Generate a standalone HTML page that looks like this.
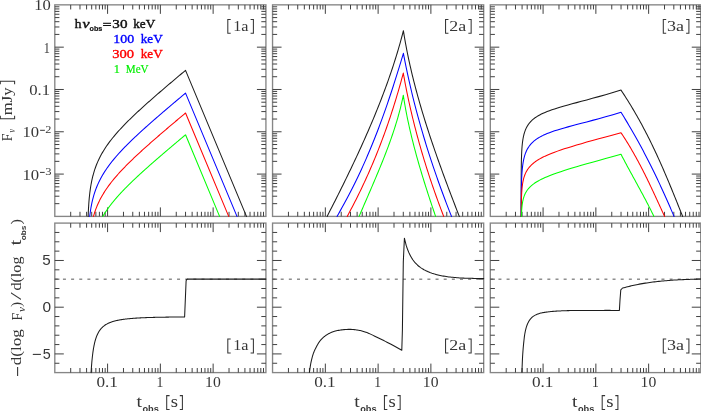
<!DOCTYPE html>
<html><head><meta charset="utf-8"><style>
html,body{margin:0;padding:0;background:#fff;}
body{width:701px;height:411px;overflow:hidden;position:relative;}
svg{position:absolute;left:0;top:0;}
.s{font-family:"Liberation Serif", serif;fill:#222;}
.ss{font-family:"Liberation Sans", sans-serif;fill:#222;}
</style></head><body>
<svg width="701" height="411" viewBox="0 0 701 411">
<rect x="54.80" y="4.85" width="211.12" height="211.55" fill="none" stroke="#868686" stroke-width="1.35"/>
<rect x="54.80" y="223.10" width="211.12" height="149.50" fill="none" stroke="#868686" stroke-width="1.35"/>
<rect x="272.55" y="4.85" width="211.12" height="211.55" fill="none" stroke="#868686" stroke-width="1.35"/>
<rect x="272.55" y="223.10" width="211.12" height="149.50" fill="none" stroke="#868686" stroke-width="1.35"/>
<rect x="490.30" y="4.85" width="210.45" height="211.55" fill="none" stroke="#868686" stroke-width="1.35"/>
<rect x="490.30" y="223.10" width="210.45" height="149.50" fill="none" stroke="#868686" stroke-width="1.35"/>
<line x1="70.69" y1="4.85" x2="70.69" y2="9.45" stroke="#404040" stroke-width="1.0"/>
<line x1="70.69" y1="216.40" x2="70.69" y2="211.80" stroke="#404040" stroke-width="1.0"/>
<line x1="79.98" y1="4.85" x2="79.98" y2="9.45" stroke="#404040" stroke-width="1.0"/>
<line x1="79.98" y1="216.40" x2="79.98" y2="211.80" stroke="#404040" stroke-width="1.0"/>
<line x1="86.58" y1="4.85" x2="86.58" y2="9.45" stroke="#404040" stroke-width="1.0"/>
<line x1="86.58" y1="216.40" x2="86.58" y2="211.80" stroke="#404040" stroke-width="1.0"/>
<line x1="91.69" y1="4.85" x2="91.69" y2="9.45" stroke="#404040" stroke-width="1.0"/>
<line x1="91.69" y1="216.40" x2="91.69" y2="211.80" stroke="#404040" stroke-width="1.0"/>
<line x1="95.87" y1="4.85" x2="95.87" y2="9.45" stroke="#404040" stroke-width="1.0"/>
<line x1="95.87" y1="216.40" x2="95.87" y2="211.80" stroke="#404040" stroke-width="1.0"/>
<line x1="99.40" y1="4.85" x2="99.40" y2="9.45" stroke="#404040" stroke-width="1.0"/>
<line x1="99.40" y1="216.40" x2="99.40" y2="211.80" stroke="#404040" stroke-width="1.0"/>
<line x1="102.47" y1="4.85" x2="102.47" y2="9.45" stroke="#404040" stroke-width="1.0"/>
<line x1="102.47" y1="216.40" x2="102.47" y2="211.80" stroke="#404040" stroke-width="1.0"/>
<line x1="105.16" y1="4.85" x2="105.16" y2="9.45" stroke="#404040" stroke-width="1.0"/>
<line x1="105.16" y1="216.40" x2="105.16" y2="211.80" stroke="#404040" stroke-width="1.0"/>
<line x1="107.58" y1="4.85" x2="107.58" y2="13.85" stroke="#404040" stroke-width="1.0"/>
<line x1="107.58" y1="216.40" x2="107.58" y2="207.40" stroke="#404040" stroke-width="1.0"/>
<line x1="123.47" y1="4.85" x2="123.47" y2="9.45" stroke="#404040" stroke-width="1.0"/>
<line x1="123.47" y1="216.40" x2="123.47" y2="211.80" stroke="#404040" stroke-width="1.0"/>
<line x1="132.76" y1="4.85" x2="132.76" y2="9.45" stroke="#404040" stroke-width="1.0"/>
<line x1="132.76" y1="216.40" x2="132.76" y2="211.80" stroke="#404040" stroke-width="1.0"/>
<line x1="139.36" y1="4.85" x2="139.36" y2="9.45" stroke="#404040" stroke-width="1.0"/>
<line x1="139.36" y1="216.40" x2="139.36" y2="211.80" stroke="#404040" stroke-width="1.0"/>
<line x1="144.47" y1="4.85" x2="144.47" y2="9.45" stroke="#404040" stroke-width="1.0"/>
<line x1="144.47" y1="216.40" x2="144.47" y2="211.80" stroke="#404040" stroke-width="1.0"/>
<line x1="148.65" y1="4.85" x2="148.65" y2="9.45" stroke="#404040" stroke-width="1.0"/>
<line x1="148.65" y1="216.40" x2="148.65" y2="211.80" stroke="#404040" stroke-width="1.0"/>
<line x1="152.18" y1="4.85" x2="152.18" y2="9.45" stroke="#404040" stroke-width="1.0"/>
<line x1="152.18" y1="216.40" x2="152.18" y2="211.80" stroke="#404040" stroke-width="1.0"/>
<line x1="155.25" y1="4.85" x2="155.25" y2="9.45" stroke="#404040" stroke-width="1.0"/>
<line x1="155.25" y1="216.40" x2="155.25" y2="211.80" stroke="#404040" stroke-width="1.0"/>
<line x1="157.94" y1="4.85" x2="157.94" y2="9.45" stroke="#404040" stroke-width="1.0"/>
<line x1="157.94" y1="216.40" x2="157.94" y2="211.80" stroke="#404040" stroke-width="1.0"/>
<line x1="160.36" y1="4.85" x2="160.36" y2="13.85" stroke="#404040" stroke-width="1.0"/>
<line x1="160.36" y1="216.40" x2="160.36" y2="207.40" stroke="#404040" stroke-width="1.0"/>
<line x1="176.25" y1="4.85" x2="176.25" y2="9.45" stroke="#404040" stroke-width="1.0"/>
<line x1="176.25" y1="216.40" x2="176.25" y2="211.80" stroke="#404040" stroke-width="1.0"/>
<line x1="185.54" y1="4.85" x2="185.54" y2="9.45" stroke="#404040" stroke-width="1.0"/>
<line x1="185.54" y1="216.40" x2="185.54" y2="211.80" stroke="#404040" stroke-width="1.0"/>
<line x1="192.14" y1="4.85" x2="192.14" y2="9.45" stroke="#404040" stroke-width="1.0"/>
<line x1="192.14" y1="216.40" x2="192.14" y2="211.80" stroke="#404040" stroke-width="1.0"/>
<line x1="197.25" y1="4.85" x2="197.25" y2="9.45" stroke="#404040" stroke-width="1.0"/>
<line x1="197.25" y1="216.40" x2="197.25" y2="211.80" stroke="#404040" stroke-width="1.0"/>
<line x1="201.43" y1="4.85" x2="201.43" y2="9.45" stroke="#404040" stroke-width="1.0"/>
<line x1="201.43" y1="216.40" x2="201.43" y2="211.80" stroke="#404040" stroke-width="1.0"/>
<line x1="204.96" y1="4.85" x2="204.96" y2="9.45" stroke="#404040" stroke-width="1.0"/>
<line x1="204.96" y1="216.40" x2="204.96" y2="211.80" stroke="#404040" stroke-width="1.0"/>
<line x1="208.03" y1="4.85" x2="208.03" y2="9.45" stroke="#404040" stroke-width="1.0"/>
<line x1="208.03" y1="216.40" x2="208.03" y2="211.80" stroke="#404040" stroke-width="1.0"/>
<line x1="210.72" y1="4.85" x2="210.72" y2="9.45" stroke="#404040" stroke-width="1.0"/>
<line x1="210.72" y1="216.40" x2="210.72" y2="211.80" stroke="#404040" stroke-width="1.0"/>
<line x1="213.14" y1="4.85" x2="213.14" y2="13.85" stroke="#404040" stroke-width="1.0"/>
<line x1="213.14" y1="216.40" x2="213.14" y2="207.40" stroke="#404040" stroke-width="1.0"/>
<line x1="229.03" y1="4.85" x2="229.03" y2="9.45" stroke="#404040" stroke-width="1.0"/>
<line x1="229.03" y1="216.40" x2="229.03" y2="211.80" stroke="#404040" stroke-width="1.0"/>
<line x1="238.32" y1="4.85" x2="238.32" y2="9.45" stroke="#404040" stroke-width="1.0"/>
<line x1="238.32" y1="216.40" x2="238.32" y2="211.80" stroke="#404040" stroke-width="1.0"/>
<line x1="244.92" y1="4.85" x2="244.92" y2="9.45" stroke="#404040" stroke-width="1.0"/>
<line x1="244.92" y1="216.40" x2="244.92" y2="211.80" stroke="#404040" stroke-width="1.0"/>
<line x1="250.03" y1="4.85" x2="250.03" y2="9.45" stroke="#404040" stroke-width="1.0"/>
<line x1="250.03" y1="216.40" x2="250.03" y2="211.80" stroke="#404040" stroke-width="1.0"/>
<line x1="254.21" y1="4.85" x2="254.21" y2="9.45" stroke="#404040" stroke-width="1.0"/>
<line x1="254.21" y1="216.40" x2="254.21" y2="211.80" stroke="#404040" stroke-width="1.0"/>
<line x1="257.74" y1="4.85" x2="257.74" y2="9.45" stroke="#404040" stroke-width="1.0"/>
<line x1="257.74" y1="216.40" x2="257.74" y2="211.80" stroke="#404040" stroke-width="1.0"/>
<line x1="260.81" y1="4.85" x2="260.81" y2="9.45" stroke="#404040" stroke-width="1.0"/>
<line x1="260.81" y1="216.40" x2="260.81" y2="211.80" stroke="#404040" stroke-width="1.0"/>
<line x1="263.50" y1="4.85" x2="263.50" y2="9.45" stroke="#404040" stroke-width="1.0"/>
<line x1="263.50" y1="216.40" x2="263.50" y2="211.80" stroke="#404040" stroke-width="1.0"/>
<line x1="54.80" y1="203.66" x2="59.40" y2="203.66" stroke="#404040" stroke-width="1.0"/>
<line x1="265.92" y1="203.66" x2="261.32" y2="203.66" stroke="#404040" stroke-width="1.0"/>
<line x1="54.80" y1="196.21" x2="59.40" y2="196.21" stroke="#404040" stroke-width="1.0"/>
<line x1="265.92" y1="196.21" x2="261.32" y2="196.21" stroke="#404040" stroke-width="1.0"/>
<line x1="54.80" y1="190.93" x2="59.40" y2="190.93" stroke="#404040" stroke-width="1.0"/>
<line x1="265.92" y1="190.93" x2="261.32" y2="190.93" stroke="#404040" stroke-width="1.0"/>
<line x1="54.80" y1="186.83" x2="59.40" y2="186.83" stroke="#404040" stroke-width="1.0"/>
<line x1="265.92" y1="186.83" x2="261.32" y2="186.83" stroke="#404040" stroke-width="1.0"/>
<line x1="54.80" y1="183.48" x2="59.40" y2="183.48" stroke="#404040" stroke-width="1.0"/>
<line x1="265.92" y1="183.48" x2="261.32" y2="183.48" stroke="#404040" stroke-width="1.0"/>
<line x1="54.80" y1="180.64" x2="59.40" y2="180.64" stroke="#404040" stroke-width="1.0"/>
<line x1="265.92" y1="180.64" x2="261.32" y2="180.64" stroke="#404040" stroke-width="1.0"/>
<line x1="54.80" y1="178.19" x2="59.40" y2="178.19" stroke="#404040" stroke-width="1.0"/>
<line x1="265.92" y1="178.19" x2="261.32" y2="178.19" stroke="#404040" stroke-width="1.0"/>
<line x1="54.80" y1="176.03" x2="59.40" y2="176.03" stroke="#404040" stroke-width="1.0"/>
<line x1="265.92" y1="176.03" x2="261.32" y2="176.03" stroke="#404040" stroke-width="1.0"/>
<line x1="54.80" y1="174.09" x2="63.80" y2="174.09" stroke="#404040" stroke-width="1.0"/>
<line x1="265.92" y1="174.09" x2="256.92" y2="174.09" stroke="#404040" stroke-width="1.0"/>
<line x1="54.80" y1="161.35" x2="59.40" y2="161.35" stroke="#404040" stroke-width="1.0"/>
<line x1="265.92" y1="161.35" x2="261.32" y2="161.35" stroke="#404040" stroke-width="1.0"/>
<line x1="54.80" y1="153.90" x2="59.40" y2="153.90" stroke="#404040" stroke-width="1.0"/>
<line x1="265.92" y1="153.90" x2="261.32" y2="153.90" stroke="#404040" stroke-width="1.0"/>
<line x1="54.80" y1="148.62" x2="59.40" y2="148.62" stroke="#404040" stroke-width="1.0"/>
<line x1="265.92" y1="148.62" x2="261.32" y2="148.62" stroke="#404040" stroke-width="1.0"/>
<line x1="54.80" y1="144.52" x2="59.40" y2="144.52" stroke="#404040" stroke-width="1.0"/>
<line x1="265.92" y1="144.52" x2="261.32" y2="144.52" stroke="#404040" stroke-width="1.0"/>
<line x1="54.80" y1="141.17" x2="59.40" y2="141.17" stroke="#404040" stroke-width="1.0"/>
<line x1="265.92" y1="141.17" x2="261.32" y2="141.17" stroke="#404040" stroke-width="1.0"/>
<line x1="54.80" y1="138.33" x2="59.40" y2="138.33" stroke="#404040" stroke-width="1.0"/>
<line x1="265.92" y1="138.33" x2="261.32" y2="138.33" stroke="#404040" stroke-width="1.0"/>
<line x1="54.80" y1="135.88" x2="59.40" y2="135.88" stroke="#404040" stroke-width="1.0"/>
<line x1="265.92" y1="135.88" x2="261.32" y2="135.88" stroke="#404040" stroke-width="1.0"/>
<line x1="54.80" y1="133.72" x2="59.40" y2="133.72" stroke="#404040" stroke-width="1.0"/>
<line x1="265.92" y1="133.72" x2="261.32" y2="133.72" stroke="#404040" stroke-width="1.0"/>
<line x1="54.80" y1="131.78" x2="63.80" y2="131.78" stroke="#404040" stroke-width="1.0"/>
<line x1="265.92" y1="131.78" x2="256.92" y2="131.78" stroke="#404040" stroke-width="1.0"/>
<line x1="54.80" y1="119.04" x2="59.40" y2="119.04" stroke="#404040" stroke-width="1.0"/>
<line x1="265.92" y1="119.04" x2="261.32" y2="119.04" stroke="#404040" stroke-width="1.0"/>
<line x1="54.80" y1="111.59" x2="59.40" y2="111.59" stroke="#404040" stroke-width="1.0"/>
<line x1="265.92" y1="111.59" x2="261.32" y2="111.59" stroke="#404040" stroke-width="1.0"/>
<line x1="54.80" y1="106.31" x2="59.40" y2="106.31" stroke="#404040" stroke-width="1.0"/>
<line x1="265.92" y1="106.31" x2="261.32" y2="106.31" stroke="#404040" stroke-width="1.0"/>
<line x1="54.80" y1="102.21" x2="59.40" y2="102.21" stroke="#404040" stroke-width="1.0"/>
<line x1="265.92" y1="102.21" x2="261.32" y2="102.21" stroke="#404040" stroke-width="1.0"/>
<line x1="54.80" y1="98.86" x2="59.40" y2="98.86" stroke="#404040" stroke-width="1.0"/>
<line x1="265.92" y1="98.86" x2="261.32" y2="98.86" stroke="#404040" stroke-width="1.0"/>
<line x1="54.80" y1="96.02" x2="59.40" y2="96.02" stroke="#404040" stroke-width="1.0"/>
<line x1="265.92" y1="96.02" x2="261.32" y2="96.02" stroke="#404040" stroke-width="1.0"/>
<line x1="54.80" y1="93.57" x2="59.40" y2="93.57" stroke="#404040" stroke-width="1.0"/>
<line x1="265.92" y1="93.57" x2="261.32" y2="93.57" stroke="#404040" stroke-width="1.0"/>
<line x1="54.80" y1="91.41" x2="59.40" y2="91.41" stroke="#404040" stroke-width="1.0"/>
<line x1="265.92" y1="91.41" x2="261.32" y2="91.41" stroke="#404040" stroke-width="1.0"/>
<line x1="54.80" y1="89.47" x2="63.80" y2="89.47" stroke="#404040" stroke-width="1.0"/>
<line x1="265.92" y1="89.47" x2="256.92" y2="89.47" stroke="#404040" stroke-width="1.0"/>
<line x1="54.80" y1="76.73" x2="59.40" y2="76.73" stroke="#404040" stroke-width="1.0"/>
<line x1="265.92" y1="76.73" x2="261.32" y2="76.73" stroke="#404040" stroke-width="1.0"/>
<line x1="54.80" y1="69.28" x2="59.40" y2="69.28" stroke="#404040" stroke-width="1.0"/>
<line x1="265.92" y1="69.28" x2="261.32" y2="69.28" stroke="#404040" stroke-width="1.0"/>
<line x1="54.80" y1="64.00" x2="59.40" y2="64.00" stroke="#404040" stroke-width="1.0"/>
<line x1="265.92" y1="64.00" x2="261.32" y2="64.00" stroke="#404040" stroke-width="1.0"/>
<line x1="54.80" y1="59.90" x2="59.40" y2="59.90" stroke="#404040" stroke-width="1.0"/>
<line x1="265.92" y1="59.90" x2="261.32" y2="59.90" stroke="#404040" stroke-width="1.0"/>
<line x1="54.80" y1="56.55" x2="59.40" y2="56.55" stroke="#404040" stroke-width="1.0"/>
<line x1="265.92" y1="56.55" x2="261.32" y2="56.55" stroke="#404040" stroke-width="1.0"/>
<line x1="54.80" y1="53.71" x2="59.40" y2="53.71" stroke="#404040" stroke-width="1.0"/>
<line x1="265.92" y1="53.71" x2="261.32" y2="53.71" stroke="#404040" stroke-width="1.0"/>
<line x1="54.80" y1="51.26" x2="59.40" y2="51.26" stroke="#404040" stroke-width="1.0"/>
<line x1="265.92" y1="51.26" x2="261.32" y2="51.26" stroke="#404040" stroke-width="1.0"/>
<line x1="54.80" y1="49.10" x2="59.40" y2="49.10" stroke="#404040" stroke-width="1.0"/>
<line x1="265.92" y1="49.10" x2="261.32" y2="49.10" stroke="#404040" stroke-width="1.0"/>
<line x1="54.80" y1="47.16" x2="63.80" y2="47.16" stroke="#404040" stroke-width="1.0"/>
<line x1="265.92" y1="47.16" x2="256.92" y2="47.16" stroke="#404040" stroke-width="1.0"/>
<line x1="54.80" y1="34.42" x2="59.40" y2="34.42" stroke="#404040" stroke-width="1.0"/>
<line x1="265.92" y1="34.42" x2="261.32" y2="34.42" stroke="#404040" stroke-width="1.0"/>
<line x1="54.80" y1="26.97" x2="59.40" y2="26.97" stroke="#404040" stroke-width="1.0"/>
<line x1="265.92" y1="26.97" x2="261.32" y2="26.97" stroke="#404040" stroke-width="1.0"/>
<line x1="54.80" y1="21.69" x2="59.40" y2="21.69" stroke="#404040" stroke-width="1.0"/>
<line x1="265.92" y1="21.69" x2="261.32" y2="21.69" stroke="#404040" stroke-width="1.0"/>
<line x1="54.80" y1="17.59" x2="59.40" y2="17.59" stroke="#404040" stroke-width="1.0"/>
<line x1="265.92" y1="17.59" x2="261.32" y2="17.59" stroke="#404040" stroke-width="1.0"/>
<line x1="54.80" y1="14.24" x2="59.40" y2="14.24" stroke="#404040" stroke-width="1.0"/>
<line x1="265.92" y1="14.24" x2="261.32" y2="14.24" stroke="#404040" stroke-width="1.0"/>
<line x1="54.80" y1="11.40" x2="59.40" y2="11.40" stroke="#404040" stroke-width="1.0"/>
<line x1="265.92" y1="11.40" x2="261.32" y2="11.40" stroke="#404040" stroke-width="1.0"/>
<line x1="54.80" y1="8.95" x2="59.40" y2="8.95" stroke="#404040" stroke-width="1.0"/>
<line x1="265.92" y1="8.95" x2="261.32" y2="8.95" stroke="#404040" stroke-width="1.0"/>
<line x1="54.80" y1="6.79" x2="59.40" y2="6.79" stroke="#404040" stroke-width="1.0"/>
<line x1="265.92" y1="6.79" x2="261.32" y2="6.79" stroke="#404040" stroke-width="1.0"/>
<line x1="70.69" y1="223.10" x2="70.69" y2="227.70" stroke="#404040" stroke-width="1.0"/>
<line x1="70.69" y1="372.60" x2="70.69" y2="368.00" stroke="#404040" stroke-width="1.0"/>
<line x1="79.98" y1="223.10" x2="79.98" y2="227.70" stroke="#404040" stroke-width="1.0"/>
<line x1="79.98" y1="372.60" x2="79.98" y2="368.00" stroke="#404040" stroke-width="1.0"/>
<line x1="86.58" y1="223.10" x2="86.58" y2="227.70" stroke="#404040" stroke-width="1.0"/>
<line x1="86.58" y1="372.60" x2="86.58" y2="368.00" stroke="#404040" stroke-width="1.0"/>
<line x1="91.69" y1="223.10" x2="91.69" y2="227.70" stroke="#404040" stroke-width="1.0"/>
<line x1="91.69" y1="372.60" x2="91.69" y2="368.00" stroke="#404040" stroke-width="1.0"/>
<line x1="95.87" y1="223.10" x2="95.87" y2="227.70" stroke="#404040" stroke-width="1.0"/>
<line x1="95.87" y1="372.60" x2="95.87" y2="368.00" stroke="#404040" stroke-width="1.0"/>
<line x1="99.40" y1="223.10" x2="99.40" y2="227.70" stroke="#404040" stroke-width="1.0"/>
<line x1="99.40" y1="372.60" x2="99.40" y2="368.00" stroke="#404040" stroke-width="1.0"/>
<line x1="102.47" y1="223.10" x2="102.47" y2="227.70" stroke="#404040" stroke-width="1.0"/>
<line x1="102.47" y1="372.60" x2="102.47" y2="368.00" stroke="#404040" stroke-width="1.0"/>
<line x1="105.16" y1="223.10" x2="105.16" y2="227.70" stroke="#404040" stroke-width="1.0"/>
<line x1="105.16" y1="372.60" x2="105.16" y2="368.00" stroke="#404040" stroke-width="1.0"/>
<line x1="107.58" y1="223.10" x2="107.58" y2="232.10" stroke="#404040" stroke-width="1.0"/>
<line x1="107.58" y1="372.60" x2="107.58" y2="363.60" stroke="#404040" stroke-width="1.0"/>
<line x1="123.47" y1="223.10" x2="123.47" y2="227.70" stroke="#404040" stroke-width="1.0"/>
<line x1="123.47" y1="372.60" x2="123.47" y2="368.00" stroke="#404040" stroke-width="1.0"/>
<line x1="132.76" y1="223.10" x2="132.76" y2="227.70" stroke="#404040" stroke-width="1.0"/>
<line x1="132.76" y1="372.60" x2="132.76" y2="368.00" stroke="#404040" stroke-width="1.0"/>
<line x1="139.36" y1="223.10" x2="139.36" y2="227.70" stroke="#404040" stroke-width="1.0"/>
<line x1="139.36" y1="372.60" x2="139.36" y2="368.00" stroke="#404040" stroke-width="1.0"/>
<line x1="144.47" y1="223.10" x2="144.47" y2="227.70" stroke="#404040" stroke-width="1.0"/>
<line x1="144.47" y1="372.60" x2="144.47" y2="368.00" stroke="#404040" stroke-width="1.0"/>
<line x1="148.65" y1="223.10" x2="148.65" y2="227.70" stroke="#404040" stroke-width="1.0"/>
<line x1="148.65" y1="372.60" x2="148.65" y2="368.00" stroke="#404040" stroke-width="1.0"/>
<line x1="152.18" y1="223.10" x2="152.18" y2="227.70" stroke="#404040" stroke-width="1.0"/>
<line x1="152.18" y1="372.60" x2="152.18" y2="368.00" stroke="#404040" stroke-width="1.0"/>
<line x1="155.25" y1="223.10" x2="155.25" y2="227.70" stroke="#404040" stroke-width="1.0"/>
<line x1="155.25" y1="372.60" x2="155.25" y2="368.00" stroke="#404040" stroke-width="1.0"/>
<line x1="157.94" y1="223.10" x2="157.94" y2="227.70" stroke="#404040" stroke-width="1.0"/>
<line x1="157.94" y1="372.60" x2="157.94" y2="368.00" stroke="#404040" stroke-width="1.0"/>
<line x1="160.36" y1="223.10" x2="160.36" y2="232.10" stroke="#404040" stroke-width="1.0"/>
<line x1="160.36" y1="372.60" x2="160.36" y2="363.60" stroke="#404040" stroke-width="1.0"/>
<line x1="176.25" y1="223.10" x2="176.25" y2="227.70" stroke="#404040" stroke-width="1.0"/>
<line x1="176.25" y1="372.60" x2="176.25" y2="368.00" stroke="#404040" stroke-width="1.0"/>
<line x1="185.54" y1="223.10" x2="185.54" y2="227.70" stroke="#404040" stroke-width="1.0"/>
<line x1="185.54" y1="372.60" x2="185.54" y2="368.00" stroke="#404040" stroke-width="1.0"/>
<line x1="192.14" y1="223.10" x2="192.14" y2="227.70" stroke="#404040" stroke-width="1.0"/>
<line x1="192.14" y1="372.60" x2="192.14" y2="368.00" stroke="#404040" stroke-width="1.0"/>
<line x1="197.25" y1="223.10" x2="197.25" y2="227.70" stroke="#404040" stroke-width="1.0"/>
<line x1="197.25" y1="372.60" x2="197.25" y2="368.00" stroke="#404040" stroke-width="1.0"/>
<line x1="201.43" y1="223.10" x2="201.43" y2="227.70" stroke="#404040" stroke-width="1.0"/>
<line x1="201.43" y1="372.60" x2="201.43" y2="368.00" stroke="#404040" stroke-width="1.0"/>
<line x1="204.96" y1="223.10" x2="204.96" y2="227.70" stroke="#404040" stroke-width="1.0"/>
<line x1="204.96" y1="372.60" x2="204.96" y2="368.00" stroke="#404040" stroke-width="1.0"/>
<line x1="208.03" y1="223.10" x2="208.03" y2="227.70" stroke="#404040" stroke-width="1.0"/>
<line x1="208.03" y1="372.60" x2="208.03" y2="368.00" stroke="#404040" stroke-width="1.0"/>
<line x1="210.72" y1="223.10" x2="210.72" y2="227.70" stroke="#404040" stroke-width="1.0"/>
<line x1="210.72" y1="372.60" x2="210.72" y2="368.00" stroke="#404040" stroke-width="1.0"/>
<line x1="213.14" y1="223.10" x2="213.14" y2="232.10" stroke="#404040" stroke-width="1.0"/>
<line x1="213.14" y1="372.60" x2="213.14" y2="363.60" stroke="#404040" stroke-width="1.0"/>
<line x1="229.03" y1="223.10" x2="229.03" y2="227.70" stroke="#404040" stroke-width="1.0"/>
<line x1="229.03" y1="372.60" x2="229.03" y2="368.00" stroke="#404040" stroke-width="1.0"/>
<line x1="238.32" y1="223.10" x2="238.32" y2="227.70" stroke="#404040" stroke-width="1.0"/>
<line x1="238.32" y1="372.60" x2="238.32" y2="368.00" stroke="#404040" stroke-width="1.0"/>
<line x1="244.92" y1="223.10" x2="244.92" y2="227.70" stroke="#404040" stroke-width="1.0"/>
<line x1="244.92" y1="372.60" x2="244.92" y2="368.00" stroke="#404040" stroke-width="1.0"/>
<line x1="250.03" y1="223.10" x2="250.03" y2="227.70" stroke="#404040" stroke-width="1.0"/>
<line x1="250.03" y1="372.60" x2="250.03" y2="368.00" stroke="#404040" stroke-width="1.0"/>
<line x1="254.21" y1="223.10" x2="254.21" y2="227.70" stroke="#404040" stroke-width="1.0"/>
<line x1="254.21" y1="372.60" x2="254.21" y2="368.00" stroke="#404040" stroke-width="1.0"/>
<line x1="257.74" y1="223.10" x2="257.74" y2="227.70" stroke="#404040" stroke-width="1.0"/>
<line x1="257.74" y1="372.60" x2="257.74" y2="368.00" stroke="#404040" stroke-width="1.0"/>
<line x1="260.81" y1="223.10" x2="260.81" y2="227.70" stroke="#404040" stroke-width="1.0"/>
<line x1="260.81" y1="372.60" x2="260.81" y2="368.00" stroke="#404040" stroke-width="1.0"/>
<line x1="263.50" y1="223.10" x2="263.50" y2="227.70" stroke="#404040" stroke-width="1.0"/>
<line x1="263.50" y1="372.60" x2="263.50" y2="368.00" stroke="#404040" stroke-width="1.0"/>
<line x1="54.80" y1="363.26" x2="59.40" y2="363.26" stroke="#404040" stroke-width="1.0"/>
<line x1="265.92" y1="363.26" x2="261.32" y2="363.26" stroke="#404040" stroke-width="1.0"/>
<line x1="54.80" y1="353.91" x2="63.80" y2="353.91" stroke="#404040" stroke-width="1.0"/>
<line x1="265.92" y1="353.91" x2="256.92" y2="353.91" stroke="#404040" stroke-width="1.0"/>
<line x1="54.80" y1="344.57" x2="59.40" y2="344.57" stroke="#404040" stroke-width="1.0"/>
<line x1="265.92" y1="344.57" x2="261.32" y2="344.57" stroke="#404040" stroke-width="1.0"/>
<line x1="54.80" y1="335.23" x2="59.40" y2="335.23" stroke="#404040" stroke-width="1.0"/>
<line x1="265.92" y1="335.23" x2="261.32" y2="335.23" stroke="#404040" stroke-width="1.0"/>
<line x1="54.80" y1="325.88" x2="59.40" y2="325.88" stroke="#404040" stroke-width="1.0"/>
<line x1="265.92" y1="325.88" x2="261.32" y2="325.88" stroke="#404040" stroke-width="1.0"/>
<line x1="54.80" y1="316.54" x2="59.40" y2="316.54" stroke="#404040" stroke-width="1.0"/>
<line x1="265.92" y1="316.54" x2="261.32" y2="316.54" stroke="#404040" stroke-width="1.0"/>
<line x1="54.80" y1="307.19" x2="63.80" y2="307.19" stroke="#404040" stroke-width="1.0"/>
<line x1="265.92" y1="307.19" x2="256.92" y2="307.19" stroke="#404040" stroke-width="1.0"/>
<line x1="54.80" y1="297.85" x2="59.40" y2="297.85" stroke="#404040" stroke-width="1.0"/>
<line x1="265.92" y1="297.85" x2="261.32" y2="297.85" stroke="#404040" stroke-width="1.0"/>
<line x1="54.80" y1="288.51" x2="59.40" y2="288.51" stroke="#404040" stroke-width="1.0"/>
<line x1="265.92" y1="288.51" x2="261.32" y2="288.51" stroke="#404040" stroke-width="1.0"/>
<line x1="54.80" y1="279.16" x2="59.40" y2="279.16" stroke="#404040" stroke-width="1.0"/>
<line x1="265.92" y1="279.16" x2="261.32" y2="279.16" stroke="#404040" stroke-width="1.0"/>
<line x1="54.80" y1="269.82" x2="59.40" y2="269.82" stroke="#404040" stroke-width="1.0"/>
<line x1="265.92" y1="269.82" x2="261.32" y2="269.82" stroke="#404040" stroke-width="1.0"/>
<line x1="54.80" y1="260.48" x2="63.80" y2="260.48" stroke="#404040" stroke-width="1.0"/>
<line x1="265.92" y1="260.48" x2="256.92" y2="260.48" stroke="#404040" stroke-width="1.0"/>
<line x1="54.80" y1="251.13" x2="59.40" y2="251.13" stroke="#404040" stroke-width="1.0"/>
<line x1="265.92" y1="251.13" x2="261.32" y2="251.13" stroke="#404040" stroke-width="1.0"/>
<line x1="54.80" y1="241.79" x2="59.40" y2="241.79" stroke="#404040" stroke-width="1.0"/>
<line x1="265.92" y1="241.79" x2="261.32" y2="241.79" stroke="#404040" stroke-width="1.0"/>
<line x1="54.80" y1="232.44" x2="59.40" y2="232.44" stroke="#404040" stroke-width="1.0"/>
<line x1="265.92" y1="232.44" x2="261.32" y2="232.44" stroke="#404040" stroke-width="1.0"/>
<line x1="288.44" y1="4.85" x2="288.44" y2="9.45" stroke="#404040" stroke-width="1.0"/>
<line x1="288.44" y1="216.40" x2="288.44" y2="211.80" stroke="#404040" stroke-width="1.0"/>
<line x1="297.73" y1="4.85" x2="297.73" y2="9.45" stroke="#404040" stroke-width="1.0"/>
<line x1="297.73" y1="216.40" x2="297.73" y2="211.80" stroke="#404040" stroke-width="1.0"/>
<line x1="304.33" y1="4.85" x2="304.33" y2="9.45" stroke="#404040" stroke-width="1.0"/>
<line x1="304.33" y1="216.40" x2="304.33" y2="211.80" stroke="#404040" stroke-width="1.0"/>
<line x1="309.44" y1="4.85" x2="309.44" y2="9.45" stroke="#404040" stroke-width="1.0"/>
<line x1="309.44" y1="216.40" x2="309.44" y2="211.80" stroke="#404040" stroke-width="1.0"/>
<line x1="313.62" y1="4.85" x2="313.62" y2="9.45" stroke="#404040" stroke-width="1.0"/>
<line x1="313.62" y1="216.40" x2="313.62" y2="211.80" stroke="#404040" stroke-width="1.0"/>
<line x1="317.15" y1="4.85" x2="317.15" y2="9.45" stroke="#404040" stroke-width="1.0"/>
<line x1="317.15" y1="216.40" x2="317.15" y2="211.80" stroke="#404040" stroke-width="1.0"/>
<line x1="320.22" y1="4.85" x2="320.22" y2="9.45" stroke="#404040" stroke-width="1.0"/>
<line x1="320.22" y1="216.40" x2="320.22" y2="211.80" stroke="#404040" stroke-width="1.0"/>
<line x1="322.91" y1="4.85" x2="322.91" y2="9.45" stroke="#404040" stroke-width="1.0"/>
<line x1="322.91" y1="216.40" x2="322.91" y2="211.80" stroke="#404040" stroke-width="1.0"/>
<line x1="325.33" y1="4.85" x2="325.33" y2="13.85" stroke="#404040" stroke-width="1.0"/>
<line x1="325.33" y1="216.40" x2="325.33" y2="207.40" stroke="#404040" stroke-width="1.0"/>
<line x1="341.22" y1="4.85" x2="341.22" y2="9.45" stroke="#404040" stroke-width="1.0"/>
<line x1="341.22" y1="216.40" x2="341.22" y2="211.80" stroke="#404040" stroke-width="1.0"/>
<line x1="350.51" y1="4.85" x2="350.51" y2="9.45" stroke="#404040" stroke-width="1.0"/>
<line x1="350.51" y1="216.40" x2="350.51" y2="211.80" stroke="#404040" stroke-width="1.0"/>
<line x1="357.11" y1="4.85" x2="357.11" y2="9.45" stroke="#404040" stroke-width="1.0"/>
<line x1="357.11" y1="216.40" x2="357.11" y2="211.80" stroke="#404040" stroke-width="1.0"/>
<line x1="362.22" y1="4.85" x2="362.22" y2="9.45" stroke="#404040" stroke-width="1.0"/>
<line x1="362.22" y1="216.40" x2="362.22" y2="211.80" stroke="#404040" stroke-width="1.0"/>
<line x1="366.40" y1="4.85" x2="366.40" y2="9.45" stroke="#404040" stroke-width="1.0"/>
<line x1="366.40" y1="216.40" x2="366.40" y2="211.80" stroke="#404040" stroke-width="1.0"/>
<line x1="369.93" y1="4.85" x2="369.93" y2="9.45" stroke="#404040" stroke-width="1.0"/>
<line x1="369.93" y1="216.40" x2="369.93" y2="211.80" stroke="#404040" stroke-width="1.0"/>
<line x1="373.00" y1="4.85" x2="373.00" y2="9.45" stroke="#404040" stroke-width="1.0"/>
<line x1="373.00" y1="216.40" x2="373.00" y2="211.80" stroke="#404040" stroke-width="1.0"/>
<line x1="375.69" y1="4.85" x2="375.69" y2="9.45" stroke="#404040" stroke-width="1.0"/>
<line x1="375.69" y1="216.40" x2="375.69" y2="211.80" stroke="#404040" stroke-width="1.0"/>
<line x1="378.11" y1="4.85" x2="378.11" y2="13.85" stroke="#404040" stroke-width="1.0"/>
<line x1="378.11" y1="216.40" x2="378.11" y2="207.40" stroke="#404040" stroke-width="1.0"/>
<line x1="394.00" y1="4.85" x2="394.00" y2="9.45" stroke="#404040" stroke-width="1.0"/>
<line x1="394.00" y1="216.40" x2="394.00" y2="211.80" stroke="#404040" stroke-width="1.0"/>
<line x1="403.29" y1="4.85" x2="403.29" y2="9.45" stroke="#404040" stroke-width="1.0"/>
<line x1="403.29" y1="216.40" x2="403.29" y2="211.80" stroke="#404040" stroke-width="1.0"/>
<line x1="409.89" y1="4.85" x2="409.89" y2="9.45" stroke="#404040" stroke-width="1.0"/>
<line x1="409.89" y1="216.40" x2="409.89" y2="211.80" stroke="#404040" stroke-width="1.0"/>
<line x1="415.00" y1="4.85" x2="415.00" y2="9.45" stroke="#404040" stroke-width="1.0"/>
<line x1="415.00" y1="216.40" x2="415.00" y2="211.80" stroke="#404040" stroke-width="1.0"/>
<line x1="419.18" y1="4.85" x2="419.18" y2="9.45" stroke="#404040" stroke-width="1.0"/>
<line x1="419.18" y1="216.40" x2="419.18" y2="211.80" stroke="#404040" stroke-width="1.0"/>
<line x1="422.71" y1="4.85" x2="422.71" y2="9.45" stroke="#404040" stroke-width="1.0"/>
<line x1="422.71" y1="216.40" x2="422.71" y2="211.80" stroke="#404040" stroke-width="1.0"/>
<line x1="425.78" y1="4.85" x2="425.78" y2="9.45" stroke="#404040" stroke-width="1.0"/>
<line x1="425.78" y1="216.40" x2="425.78" y2="211.80" stroke="#404040" stroke-width="1.0"/>
<line x1="428.47" y1="4.85" x2="428.47" y2="9.45" stroke="#404040" stroke-width="1.0"/>
<line x1="428.47" y1="216.40" x2="428.47" y2="211.80" stroke="#404040" stroke-width="1.0"/>
<line x1="430.89" y1="4.85" x2="430.89" y2="13.85" stroke="#404040" stroke-width="1.0"/>
<line x1="430.89" y1="216.40" x2="430.89" y2="207.40" stroke="#404040" stroke-width="1.0"/>
<line x1="446.78" y1="4.85" x2="446.78" y2="9.45" stroke="#404040" stroke-width="1.0"/>
<line x1="446.78" y1="216.40" x2="446.78" y2="211.80" stroke="#404040" stroke-width="1.0"/>
<line x1="456.07" y1="4.85" x2="456.07" y2="9.45" stroke="#404040" stroke-width="1.0"/>
<line x1="456.07" y1="216.40" x2="456.07" y2="211.80" stroke="#404040" stroke-width="1.0"/>
<line x1="462.67" y1="4.85" x2="462.67" y2="9.45" stroke="#404040" stroke-width="1.0"/>
<line x1="462.67" y1="216.40" x2="462.67" y2="211.80" stroke="#404040" stroke-width="1.0"/>
<line x1="467.78" y1="4.85" x2="467.78" y2="9.45" stroke="#404040" stroke-width="1.0"/>
<line x1="467.78" y1="216.40" x2="467.78" y2="211.80" stroke="#404040" stroke-width="1.0"/>
<line x1="471.96" y1="4.85" x2="471.96" y2="9.45" stroke="#404040" stroke-width="1.0"/>
<line x1="471.96" y1="216.40" x2="471.96" y2="211.80" stroke="#404040" stroke-width="1.0"/>
<line x1="475.49" y1="4.85" x2="475.49" y2="9.45" stroke="#404040" stroke-width="1.0"/>
<line x1="475.49" y1="216.40" x2="475.49" y2="211.80" stroke="#404040" stroke-width="1.0"/>
<line x1="478.56" y1="4.85" x2="478.56" y2="9.45" stroke="#404040" stroke-width="1.0"/>
<line x1="478.56" y1="216.40" x2="478.56" y2="211.80" stroke="#404040" stroke-width="1.0"/>
<line x1="481.25" y1="4.85" x2="481.25" y2="9.45" stroke="#404040" stroke-width="1.0"/>
<line x1="481.25" y1="216.40" x2="481.25" y2="211.80" stroke="#404040" stroke-width="1.0"/>
<line x1="272.55" y1="203.66" x2="277.15" y2="203.66" stroke="#404040" stroke-width="1.0"/>
<line x1="483.67" y1="203.66" x2="479.07" y2="203.66" stroke="#404040" stroke-width="1.0"/>
<line x1="272.55" y1="196.21" x2="277.15" y2="196.21" stroke="#404040" stroke-width="1.0"/>
<line x1="483.67" y1="196.21" x2="479.07" y2="196.21" stroke="#404040" stroke-width="1.0"/>
<line x1="272.55" y1="190.93" x2="277.15" y2="190.93" stroke="#404040" stroke-width="1.0"/>
<line x1="483.67" y1="190.93" x2="479.07" y2="190.93" stroke="#404040" stroke-width="1.0"/>
<line x1="272.55" y1="186.83" x2="277.15" y2="186.83" stroke="#404040" stroke-width="1.0"/>
<line x1="483.67" y1="186.83" x2="479.07" y2="186.83" stroke="#404040" stroke-width="1.0"/>
<line x1="272.55" y1="183.48" x2="277.15" y2="183.48" stroke="#404040" stroke-width="1.0"/>
<line x1="483.67" y1="183.48" x2="479.07" y2="183.48" stroke="#404040" stroke-width="1.0"/>
<line x1="272.55" y1="180.64" x2="277.15" y2="180.64" stroke="#404040" stroke-width="1.0"/>
<line x1="483.67" y1="180.64" x2="479.07" y2="180.64" stroke="#404040" stroke-width="1.0"/>
<line x1="272.55" y1="178.19" x2="277.15" y2="178.19" stroke="#404040" stroke-width="1.0"/>
<line x1="483.67" y1="178.19" x2="479.07" y2="178.19" stroke="#404040" stroke-width="1.0"/>
<line x1="272.55" y1="176.03" x2="277.15" y2="176.03" stroke="#404040" stroke-width="1.0"/>
<line x1="483.67" y1="176.03" x2="479.07" y2="176.03" stroke="#404040" stroke-width="1.0"/>
<line x1="272.55" y1="174.09" x2="281.55" y2="174.09" stroke="#404040" stroke-width="1.0"/>
<line x1="483.67" y1="174.09" x2="474.67" y2="174.09" stroke="#404040" stroke-width="1.0"/>
<line x1="272.55" y1="161.35" x2="277.15" y2="161.35" stroke="#404040" stroke-width="1.0"/>
<line x1="483.67" y1="161.35" x2="479.07" y2="161.35" stroke="#404040" stroke-width="1.0"/>
<line x1="272.55" y1="153.90" x2="277.15" y2="153.90" stroke="#404040" stroke-width="1.0"/>
<line x1="483.67" y1="153.90" x2="479.07" y2="153.90" stroke="#404040" stroke-width="1.0"/>
<line x1="272.55" y1="148.62" x2="277.15" y2="148.62" stroke="#404040" stroke-width="1.0"/>
<line x1="483.67" y1="148.62" x2="479.07" y2="148.62" stroke="#404040" stroke-width="1.0"/>
<line x1="272.55" y1="144.52" x2="277.15" y2="144.52" stroke="#404040" stroke-width="1.0"/>
<line x1="483.67" y1="144.52" x2="479.07" y2="144.52" stroke="#404040" stroke-width="1.0"/>
<line x1="272.55" y1="141.17" x2="277.15" y2="141.17" stroke="#404040" stroke-width="1.0"/>
<line x1="483.67" y1="141.17" x2="479.07" y2="141.17" stroke="#404040" stroke-width="1.0"/>
<line x1="272.55" y1="138.33" x2="277.15" y2="138.33" stroke="#404040" stroke-width="1.0"/>
<line x1="483.67" y1="138.33" x2="479.07" y2="138.33" stroke="#404040" stroke-width="1.0"/>
<line x1="272.55" y1="135.88" x2="277.15" y2="135.88" stroke="#404040" stroke-width="1.0"/>
<line x1="483.67" y1="135.88" x2="479.07" y2="135.88" stroke="#404040" stroke-width="1.0"/>
<line x1="272.55" y1="133.72" x2="277.15" y2="133.72" stroke="#404040" stroke-width="1.0"/>
<line x1="483.67" y1="133.72" x2="479.07" y2="133.72" stroke="#404040" stroke-width="1.0"/>
<line x1="272.55" y1="131.78" x2="281.55" y2="131.78" stroke="#404040" stroke-width="1.0"/>
<line x1="483.67" y1="131.78" x2="474.67" y2="131.78" stroke="#404040" stroke-width="1.0"/>
<line x1="272.55" y1="119.04" x2="277.15" y2="119.04" stroke="#404040" stroke-width="1.0"/>
<line x1="483.67" y1="119.04" x2="479.07" y2="119.04" stroke="#404040" stroke-width="1.0"/>
<line x1="272.55" y1="111.59" x2="277.15" y2="111.59" stroke="#404040" stroke-width="1.0"/>
<line x1="483.67" y1="111.59" x2="479.07" y2="111.59" stroke="#404040" stroke-width="1.0"/>
<line x1="272.55" y1="106.31" x2="277.15" y2="106.31" stroke="#404040" stroke-width="1.0"/>
<line x1="483.67" y1="106.31" x2="479.07" y2="106.31" stroke="#404040" stroke-width="1.0"/>
<line x1="272.55" y1="102.21" x2="277.15" y2="102.21" stroke="#404040" stroke-width="1.0"/>
<line x1="483.67" y1="102.21" x2="479.07" y2="102.21" stroke="#404040" stroke-width="1.0"/>
<line x1="272.55" y1="98.86" x2="277.15" y2="98.86" stroke="#404040" stroke-width="1.0"/>
<line x1="483.67" y1="98.86" x2="479.07" y2="98.86" stroke="#404040" stroke-width="1.0"/>
<line x1="272.55" y1="96.02" x2="277.15" y2="96.02" stroke="#404040" stroke-width="1.0"/>
<line x1="483.67" y1="96.02" x2="479.07" y2="96.02" stroke="#404040" stroke-width="1.0"/>
<line x1="272.55" y1="93.57" x2="277.15" y2="93.57" stroke="#404040" stroke-width="1.0"/>
<line x1="483.67" y1="93.57" x2="479.07" y2="93.57" stroke="#404040" stroke-width="1.0"/>
<line x1="272.55" y1="91.41" x2="277.15" y2="91.41" stroke="#404040" stroke-width="1.0"/>
<line x1="483.67" y1="91.41" x2="479.07" y2="91.41" stroke="#404040" stroke-width="1.0"/>
<line x1="272.55" y1="89.47" x2="281.55" y2="89.47" stroke="#404040" stroke-width="1.0"/>
<line x1="483.67" y1="89.47" x2="474.67" y2="89.47" stroke="#404040" stroke-width="1.0"/>
<line x1="272.55" y1="76.73" x2="277.15" y2="76.73" stroke="#404040" stroke-width="1.0"/>
<line x1="483.67" y1="76.73" x2="479.07" y2="76.73" stroke="#404040" stroke-width="1.0"/>
<line x1="272.55" y1="69.28" x2="277.15" y2="69.28" stroke="#404040" stroke-width="1.0"/>
<line x1="483.67" y1="69.28" x2="479.07" y2="69.28" stroke="#404040" stroke-width="1.0"/>
<line x1="272.55" y1="64.00" x2="277.15" y2="64.00" stroke="#404040" stroke-width="1.0"/>
<line x1="483.67" y1="64.00" x2="479.07" y2="64.00" stroke="#404040" stroke-width="1.0"/>
<line x1="272.55" y1="59.90" x2="277.15" y2="59.90" stroke="#404040" stroke-width="1.0"/>
<line x1="483.67" y1="59.90" x2="479.07" y2="59.90" stroke="#404040" stroke-width="1.0"/>
<line x1="272.55" y1="56.55" x2="277.15" y2="56.55" stroke="#404040" stroke-width="1.0"/>
<line x1="483.67" y1="56.55" x2="479.07" y2="56.55" stroke="#404040" stroke-width="1.0"/>
<line x1="272.55" y1="53.71" x2="277.15" y2="53.71" stroke="#404040" stroke-width="1.0"/>
<line x1="483.67" y1="53.71" x2="479.07" y2="53.71" stroke="#404040" stroke-width="1.0"/>
<line x1="272.55" y1="51.26" x2="277.15" y2="51.26" stroke="#404040" stroke-width="1.0"/>
<line x1="483.67" y1="51.26" x2="479.07" y2="51.26" stroke="#404040" stroke-width="1.0"/>
<line x1="272.55" y1="49.10" x2="277.15" y2="49.10" stroke="#404040" stroke-width="1.0"/>
<line x1="483.67" y1="49.10" x2="479.07" y2="49.10" stroke="#404040" stroke-width="1.0"/>
<line x1="272.55" y1="47.16" x2="281.55" y2="47.16" stroke="#404040" stroke-width="1.0"/>
<line x1="483.67" y1="47.16" x2="474.67" y2="47.16" stroke="#404040" stroke-width="1.0"/>
<line x1="272.55" y1="34.42" x2="277.15" y2="34.42" stroke="#404040" stroke-width="1.0"/>
<line x1="483.67" y1="34.42" x2="479.07" y2="34.42" stroke="#404040" stroke-width="1.0"/>
<line x1="272.55" y1="26.97" x2="277.15" y2="26.97" stroke="#404040" stroke-width="1.0"/>
<line x1="483.67" y1="26.97" x2="479.07" y2="26.97" stroke="#404040" stroke-width="1.0"/>
<line x1="272.55" y1="21.69" x2="277.15" y2="21.69" stroke="#404040" stroke-width="1.0"/>
<line x1="483.67" y1="21.69" x2="479.07" y2="21.69" stroke="#404040" stroke-width="1.0"/>
<line x1="272.55" y1="17.59" x2="277.15" y2="17.59" stroke="#404040" stroke-width="1.0"/>
<line x1="483.67" y1="17.59" x2="479.07" y2="17.59" stroke="#404040" stroke-width="1.0"/>
<line x1="272.55" y1="14.24" x2="277.15" y2="14.24" stroke="#404040" stroke-width="1.0"/>
<line x1="483.67" y1="14.24" x2="479.07" y2="14.24" stroke="#404040" stroke-width="1.0"/>
<line x1="272.55" y1="11.40" x2="277.15" y2="11.40" stroke="#404040" stroke-width="1.0"/>
<line x1="483.67" y1="11.40" x2="479.07" y2="11.40" stroke="#404040" stroke-width="1.0"/>
<line x1="272.55" y1="8.95" x2="277.15" y2="8.95" stroke="#404040" stroke-width="1.0"/>
<line x1="483.67" y1="8.95" x2="479.07" y2="8.95" stroke="#404040" stroke-width="1.0"/>
<line x1="272.55" y1="6.79" x2="277.15" y2="6.79" stroke="#404040" stroke-width="1.0"/>
<line x1="483.67" y1="6.79" x2="479.07" y2="6.79" stroke="#404040" stroke-width="1.0"/>
<line x1="288.44" y1="223.10" x2="288.44" y2="227.70" stroke="#404040" stroke-width="1.0"/>
<line x1="288.44" y1="372.60" x2="288.44" y2="368.00" stroke="#404040" stroke-width="1.0"/>
<line x1="297.73" y1="223.10" x2="297.73" y2="227.70" stroke="#404040" stroke-width="1.0"/>
<line x1="297.73" y1="372.60" x2="297.73" y2="368.00" stroke="#404040" stroke-width="1.0"/>
<line x1="304.33" y1="223.10" x2="304.33" y2="227.70" stroke="#404040" stroke-width="1.0"/>
<line x1="304.33" y1="372.60" x2="304.33" y2="368.00" stroke="#404040" stroke-width="1.0"/>
<line x1="309.44" y1="223.10" x2="309.44" y2="227.70" stroke="#404040" stroke-width="1.0"/>
<line x1="309.44" y1="372.60" x2="309.44" y2="368.00" stroke="#404040" stroke-width="1.0"/>
<line x1="313.62" y1="223.10" x2="313.62" y2="227.70" stroke="#404040" stroke-width="1.0"/>
<line x1="313.62" y1="372.60" x2="313.62" y2="368.00" stroke="#404040" stroke-width="1.0"/>
<line x1="317.15" y1="223.10" x2="317.15" y2="227.70" stroke="#404040" stroke-width="1.0"/>
<line x1="317.15" y1="372.60" x2="317.15" y2="368.00" stroke="#404040" stroke-width="1.0"/>
<line x1="320.22" y1="223.10" x2="320.22" y2="227.70" stroke="#404040" stroke-width="1.0"/>
<line x1="320.22" y1="372.60" x2="320.22" y2="368.00" stroke="#404040" stroke-width="1.0"/>
<line x1="322.91" y1="223.10" x2="322.91" y2="227.70" stroke="#404040" stroke-width="1.0"/>
<line x1="322.91" y1="372.60" x2="322.91" y2="368.00" stroke="#404040" stroke-width="1.0"/>
<line x1="325.33" y1="223.10" x2="325.33" y2="232.10" stroke="#404040" stroke-width="1.0"/>
<line x1="325.33" y1="372.60" x2="325.33" y2="363.60" stroke="#404040" stroke-width="1.0"/>
<line x1="341.22" y1="223.10" x2="341.22" y2="227.70" stroke="#404040" stroke-width="1.0"/>
<line x1="341.22" y1="372.60" x2="341.22" y2="368.00" stroke="#404040" stroke-width="1.0"/>
<line x1="350.51" y1="223.10" x2="350.51" y2="227.70" stroke="#404040" stroke-width="1.0"/>
<line x1="350.51" y1="372.60" x2="350.51" y2="368.00" stroke="#404040" stroke-width="1.0"/>
<line x1="357.11" y1="223.10" x2="357.11" y2="227.70" stroke="#404040" stroke-width="1.0"/>
<line x1="357.11" y1="372.60" x2="357.11" y2="368.00" stroke="#404040" stroke-width="1.0"/>
<line x1="362.22" y1="223.10" x2="362.22" y2="227.70" stroke="#404040" stroke-width="1.0"/>
<line x1="362.22" y1="372.60" x2="362.22" y2="368.00" stroke="#404040" stroke-width="1.0"/>
<line x1="366.40" y1="223.10" x2="366.40" y2="227.70" stroke="#404040" stroke-width="1.0"/>
<line x1="366.40" y1="372.60" x2="366.40" y2="368.00" stroke="#404040" stroke-width="1.0"/>
<line x1="369.93" y1="223.10" x2="369.93" y2="227.70" stroke="#404040" stroke-width="1.0"/>
<line x1="369.93" y1="372.60" x2="369.93" y2="368.00" stroke="#404040" stroke-width="1.0"/>
<line x1="373.00" y1="223.10" x2="373.00" y2="227.70" stroke="#404040" stroke-width="1.0"/>
<line x1="373.00" y1="372.60" x2="373.00" y2="368.00" stroke="#404040" stroke-width="1.0"/>
<line x1="375.69" y1="223.10" x2="375.69" y2="227.70" stroke="#404040" stroke-width="1.0"/>
<line x1="375.69" y1="372.60" x2="375.69" y2="368.00" stroke="#404040" stroke-width="1.0"/>
<line x1="378.11" y1="223.10" x2="378.11" y2="232.10" stroke="#404040" stroke-width="1.0"/>
<line x1="378.11" y1="372.60" x2="378.11" y2="363.60" stroke="#404040" stroke-width="1.0"/>
<line x1="394.00" y1="223.10" x2="394.00" y2="227.70" stroke="#404040" stroke-width="1.0"/>
<line x1="394.00" y1="372.60" x2="394.00" y2="368.00" stroke="#404040" stroke-width="1.0"/>
<line x1="403.29" y1="223.10" x2="403.29" y2="227.70" stroke="#404040" stroke-width="1.0"/>
<line x1="403.29" y1="372.60" x2="403.29" y2="368.00" stroke="#404040" stroke-width="1.0"/>
<line x1="409.89" y1="223.10" x2="409.89" y2="227.70" stroke="#404040" stroke-width="1.0"/>
<line x1="409.89" y1="372.60" x2="409.89" y2="368.00" stroke="#404040" stroke-width="1.0"/>
<line x1="415.00" y1="223.10" x2="415.00" y2="227.70" stroke="#404040" stroke-width="1.0"/>
<line x1="415.00" y1="372.60" x2="415.00" y2="368.00" stroke="#404040" stroke-width="1.0"/>
<line x1="419.18" y1="223.10" x2="419.18" y2="227.70" stroke="#404040" stroke-width="1.0"/>
<line x1="419.18" y1="372.60" x2="419.18" y2="368.00" stroke="#404040" stroke-width="1.0"/>
<line x1="422.71" y1="223.10" x2="422.71" y2="227.70" stroke="#404040" stroke-width="1.0"/>
<line x1="422.71" y1="372.60" x2="422.71" y2="368.00" stroke="#404040" stroke-width="1.0"/>
<line x1="425.78" y1="223.10" x2="425.78" y2="227.70" stroke="#404040" stroke-width="1.0"/>
<line x1="425.78" y1="372.60" x2="425.78" y2="368.00" stroke="#404040" stroke-width="1.0"/>
<line x1="428.47" y1="223.10" x2="428.47" y2="227.70" stroke="#404040" stroke-width="1.0"/>
<line x1="428.47" y1="372.60" x2="428.47" y2="368.00" stroke="#404040" stroke-width="1.0"/>
<line x1="430.89" y1="223.10" x2="430.89" y2="232.10" stroke="#404040" stroke-width="1.0"/>
<line x1="430.89" y1="372.60" x2="430.89" y2="363.60" stroke="#404040" stroke-width="1.0"/>
<line x1="446.78" y1="223.10" x2="446.78" y2="227.70" stroke="#404040" stroke-width="1.0"/>
<line x1="446.78" y1="372.60" x2="446.78" y2="368.00" stroke="#404040" stroke-width="1.0"/>
<line x1="456.07" y1="223.10" x2="456.07" y2="227.70" stroke="#404040" stroke-width="1.0"/>
<line x1="456.07" y1="372.60" x2="456.07" y2="368.00" stroke="#404040" stroke-width="1.0"/>
<line x1="462.67" y1="223.10" x2="462.67" y2="227.70" stroke="#404040" stroke-width="1.0"/>
<line x1="462.67" y1="372.60" x2="462.67" y2="368.00" stroke="#404040" stroke-width="1.0"/>
<line x1="467.78" y1="223.10" x2="467.78" y2="227.70" stroke="#404040" stroke-width="1.0"/>
<line x1="467.78" y1="372.60" x2="467.78" y2="368.00" stroke="#404040" stroke-width="1.0"/>
<line x1="471.96" y1="223.10" x2="471.96" y2="227.70" stroke="#404040" stroke-width="1.0"/>
<line x1="471.96" y1="372.60" x2="471.96" y2="368.00" stroke="#404040" stroke-width="1.0"/>
<line x1="475.49" y1="223.10" x2="475.49" y2="227.70" stroke="#404040" stroke-width="1.0"/>
<line x1="475.49" y1="372.60" x2="475.49" y2="368.00" stroke="#404040" stroke-width="1.0"/>
<line x1="478.56" y1="223.10" x2="478.56" y2="227.70" stroke="#404040" stroke-width="1.0"/>
<line x1="478.56" y1="372.60" x2="478.56" y2="368.00" stroke="#404040" stroke-width="1.0"/>
<line x1="481.25" y1="223.10" x2="481.25" y2="227.70" stroke="#404040" stroke-width="1.0"/>
<line x1="481.25" y1="372.60" x2="481.25" y2="368.00" stroke="#404040" stroke-width="1.0"/>
<line x1="272.55" y1="363.26" x2="277.15" y2="363.26" stroke="#404040" stroke-width="1.0"/>
<line x1="483.67" y1="363.26" x2="479.07" y2="363.26" stroke="#404040" stroke-width="1.0"/>
<line x1="272.55" y1="353.91" x2="281.55" y2="353.91" stroke="#404040" stroke-width="1.0"/>
<line x1="483.67" y1="353.91" x2="474.67" y2="353.91" stroke="#404040" stroke-width="1.0"/>
<line x1="272.55" y1="344.57" x2="277.15" y2="344.57" stroke="#404040" stroke-width="1.0"/>
<line x1="483.67" y1="344.57" x2="479.07" y2="344.57" stroke="#404040" stroke-width="1.0"/>
<line x1="272.55" y1="335.23" x2="277.15" y2="335.23" stroke="#404040" stroke-width="1.0"/>
<line x1="483.67" y1="335.23" x2="479.07" y2="335.23" stroke="#404040" stroke-width="1.0"/>
<line x1="272.55" y1="325.88" x2="277.15" y2="325.88" stroke="#404040" stroke-width="1.0"/>
<line x1="483.67" y1="325.88" x2="479.07" y2="325.88" stroke="#404040" stroke-width="1.0"/>
<line x1="272.55" y1="316.54" x2="277.15" y2="316.54" stroke="#404040" stroke-width="1.0"/>
<line x1="483.67" y1="316.54" x2="479.07" y2="316.54" stroke="#404040" stroke-width="1.0"/>
<line x1="272.55" y1="307.19" x2="281.55" y2="307.19" stroke="#404040" stroke-width="1.0"/>
<line x1="483.67" y1="307.19" x2="474.67" y2="307.19" stroke="#404040" stroke-width="1.0"/>
<line x1="272.55" y1="297.85" x2="277.15" y2="297.85" stroke="#404040" stroke-width="1.0"/>
<line x1="483.67" y1="297.85" x2="479.07" y2="297.85" stroke="#404040" stroke-width="1.0"/>
<line x1="272.55" y1="288.51" x2="277.15" y2="288.51" stroke="#404040" stroke-width="1.0"/>
<line x1="483.67" y1="288.51" x2="479.07" y2="288.51" stroke="#404040" stroke-width="1.0"/>
<line x1="272.55" y1="279.16" x2="277.15" y2="279.16" stroke="#404040" stroke-width="1.0"/>
<line x1="483.67" y1="279.16" x2="479.07" y2="279.16" stroke="#404040" stroke-width="1.0"/>
<line x1="272.55" y1="269.82" x2="277.15" y2="269.82" stroke="#404040" stroke-width="1.0"/>
<line x1="483.67" y1="269.82" x2="479.07" y2="269.82" stroke="#404040" stroke-width="1.0"/>
<line x1="272.55" y1="260.48" x2="281.55" y2="260.48" stroke="#404040" stroke-width="1.0"/>
<line x1="483.67" y1="260.48" x2="474.67" y2="260.48" stroke="#404040" stroke-width="1.0"/>
<line x1="272.55" y1="251.13" x2="277.15" y2="251.13" stroke="#404040" stroke-width="1.0"/>
<line x1="483.67" y1="251.13" x2="479.07" y2="251.13" stroke="#404040" stroke-width="1.0"/>
<line x1="272.55" y1="241.79" x2="277.15" y2="241.79" stroke="#404040" stroke-width="1.0"/>
<line x1="483.67" y1="241.79" x2="479.07" y2="241.79" stroke="#404040" stroke-width="1.0"/>
<line x1="272.55" y1="232.44" x2="277.15" y2="232.44" stroke="#404040" stroke-width="1.0"/>
<line x1="483.67" y1="232.44" x2="479.07" y2="232.44" stroke="#404040" stroke-width="1.0"/>
<line x1="506.19" y1="4.85" x2="506.19" y2="9.45" stroke="#404040" stroke-width="1.0"/>
<line x1="506.19" y1="216.40" x2="506.19" y2="211.80" stroke="#404040" stroke-width="1.0"/>
<line x1="515.48" y1="4.85" x2="515.48" y2="9.45" stroke="#404040" stroke-width="1.0"/>
<line x1="515.48" y1="216.40" x2="515.48" y2="211.80" stroke="#404040" stroke-width="1.0"/>
<line x1="522.08" y1="4.85" x2="522.08" y2="9.45" stroke="#404040" stroke-width="1.0"/>
<line x1="522.08" y1="216.40" x2="522.08" y2="211.80" stroke="#404040" stroke-width="1.0"/>
<line x1="527.19" y1="4.85" x2="527.19" y2="9.45" stroke="#404040" stroke-width="1.0"/>
<line x1="527.19" y1="216.40" x2="527.19" y2="211.80" stroke="#404040" stroke-width="1.0"/>
<line x1="531.37" y1="4.85" x2="531.37" y2="9.45" stroke="#404040" stroke-width="1.0"/>
<line x1="531.37" y1="216.40" x2="531.37" y2="211.80" stroke="#404040" stroke-width="1.0"/>
<line x1="534.90" y1="4.85" x2="534.90" y2="9.45" stroke="#404040" stroke-width="1.0"/>
<line x1="534.90" y1="216.40" x2="534.90" y2="211.80" stroke="#404040" stroke-width="1.0"/>
<line x1="537.97" y1="4.85" x2="537.97" y2="9.45" stroke="#404040" stroke-width="1.0"/>
<line x1="537.97" y1="216.40" x2="537.97" y2="211.80" stroke="#404040" stroke-width="1.0"/>
<line x1="540.66" y1="4.85" x2="540.66" y2="9.45" stroke="#404040" stroke-width="1.0"/>
<line x1="540.66" y1="216.40" x2="540.66" y2="211.80" stroke="#404040" stroke-width="1.0"/>
<line x1="543.08" y1="4.85" x2="543.08" y2="13.85" stroke="#404040" stroke-width="1.0"/>
<line x1="543.08" y1="216.40" x2="543.08" y2="207.40" stroke="#404040" stroke-width="1.0"/>
<line x1="558.97" y1="4.85" x2="558.97" y2="9.45" stroke="#404040" stroke-width="1.0"/>
<line x1="558.97" y1="216.40" x2="558.97" y2="211.80" stroke="#404040" stroke-width="1.0"/>
<line x1="568.26" y1="4.85" x2="568.26" y2="9.45" stroke="#404040" stroke-width="1.0"/>
<line x1="568.26" y1="216.40" x2="568.26" y2="211.80" stroke="#404040" stroke-width="1.0"/>
<line x1="574.86" y1="4.85" x2="574.86" y2="9.45" stroke="#404040" stroke-width="1.0"/>
<line x1="574.86" y1="216.40" x2="574.86" y2="211.80" stroke="#404040" stroke-width="1.0"/>
<line x1="579.97" y1="4.85" x2="579.97" y2="9.45" stroke="#404040" stroke-width="1.0"/>
<line x1="579.97" y1="216.40" x2="579.97" y2="211.80" stroke="#404040" stroke-width="1.0"/>
<line x1="584.15" y1="4.85" x2="584.15" y2="9.45" stroke="#404040" stroke-width="1.0"/>
<line x1="584.15" y1="216.40" x2="584.15" y2="211.80" stroke="#404040" stroke-width="1.0"/>
<line x1="587.68" y1="4.85" x2="587.68" y2="9.45" stroke="#404040" stroke-width="1.0"/>
<line x1="587.68" y1="216.40" x2="587.68" y2="211.80" stroke="#404040" stroke-width="1.0"/>
<line x1="590.75" y1="4.85" x2="590.75" y2="9.45" stroke="#404040" stroke-width="1.0"/>
<line x1="590.75" y1="216.40" x2="590.75" y2="211.80" stroke="#404040" stroke-width="1.0"/>
<line x1="593.44" y1="4.85" x2="593.44" y2="9.45" stroke="#404040" stroke-width="1.0"/>
<line x1="593.44" y1="216.40" x2="593.44" y2="211.80" stroke="#404040" stroke-width="1.0"/>
<line x1="595.86" y1="4.85" x2="595.86" y2="13.85" stroke="#404040" stroke-width="1.0"/>
<line x1="595.86" y1="216.40" x2="595.86" y2="207.40" stroke="#404040" stroke-width="1.0"/>
<line x1="611.75" y1="4.85" x2="611.75" y2="9.45" stroke="#404040" stroke-width="1.0"/>
<line x1="611.75" y1="216.40" x2="611.75" y2="211.80" stroke="#404040" stroke-width="1.0"/>
<line x1="621.04" y1="4.85" x2="621.04" y2="9.45" stroke="#404040" stroke-width="1.0"/>
<line x1="621.04" y1="216.40" x2="621.04" y2="211.80" stroke="#404040" stroke-width="1.0"/>
<line x1="627.64" y1="4.85" x2="627.64" y2="9.45" stroke="#404040" stroke-width="1.0"/>
<line x1="627.64" y1="216.40" x2="627.64" y2="211.80" stroke="#404040" stroke-width="1.0"/>
<line x1="632.75" y1="4.85" x2="632.75" y2="9.45" stroke="#404040" stroke-width="1.0"/>
<line x1="632.75" y1="216.40" x2="632.75" y2="211.80" stroke="#404040" stroke-width="1.0"/>
<line x1="636.93" y1="4.85" x2="636.93" y2="9.45" stroke="#404040" stroke-width="1.0"/>
<line x1="636.93" y1="216.40" x2="636.93" y2="211.80" stroke="#404040" stroke-width="1.0"/>
<line x1="640.46" y1="4.85" x2="640.46" y2="9.45" stroke="#404040" stroke-width="1.0"/>
<line x1="640.46" y1="216.40" x2="640.46" y2="211.80" stroke="#404040" stroke-width="1.0"/>
<line x1="643.53" y1="4.85" x2="643.53" y2="9.45" stroke="#404040" stroke-width="1.0"/>
<line x1="643.53" y1="216.40" x2="643.53" y2="211.80" stroke="#404040" stroke-width="1.0"/>
<line x1="646.22" y1="4.85" x2="646.22" y2="9.45" stroke="#404040" stroke-width="1.0"/>
<line x1="646.22" y1="216.40" x2="646.22" y2="211.80" stroke="#404040" stroke-width="1.0"/>
<line x1="648.64" y1="4.85" x2="648.64" y2="13.85" stroke="#404040" stroke-width="1.0"/>
<line x1="648.64" y1="216.40" x2="648.64" y2="207.40" stroke="#404040" stroke-width="1.0"/>
<line x1="664.53" y1="4.85" x2="664.53" y2="9.45" stroke="#404040" stroke-width="1.0"/>
<line x1="664.53" y1="216.40" x2="664.53" y2="211.80" stroke="#404040" stroke-width="1.0"/>
<line x1="673.82" y1="4.85" x2="673.82" y2="9.45" stroke="#404040" stroke-width="1.0"/>
<line x1="673.82" y1="216.40" x2="673.82" y2="211.80" stroke="#404040" stroke-width="1.0"/>
<line x1="680.42" y1="4.85" x2="680.42" y2="9.45" stroke="#404040" stroke-width="1.0"/>
<line x1="680.42" y1="216.40" x2="680.42" y2="211.80" stroke="#404040" stroke-width="1.0"/>
<line x1="685.53" y1="4.85" x2="685.53" y2="9.45" stroke="#404040" stroke-width="1.0"/>
<line x1="685.53" y1="216.40" x2="685.53" y2="211.80" stroke="#404040" stroke-width="1.0"/>
<line x1="689.71" y1="4.85" x2="689.71" y2="9.45" stroke="#404040" stroke-width="1.0"/>
<line x1="689.71" y1="216.40" x2="689.71" y2="211.80" stroke="#404040" stroke-width="1.0"/>
<line x1="693.24" y1="4.85" x2="693.24" y2="9.45" stroke="#404040" stroke-width="1.0"/>
<line x1="693.24" y1="216.40" x2="693.24" y2="211.80" stroke="#404040" stroke-width="1.0"/>
<line x1="696.31" y1="4.85" x2="696.31" y2="9.45" stroke="#404040" stroke-width="1.0"/>
<line x1="696.31" y1="216.40" x2="696.31" y2="211.80" stroke="#404040" stroke-width="1.0"/>
<line x1="699.00" y1="4.85" x2="699.00" y2="9.45" stroke="#404040" stroke-width="1.0"/>
<line x1="699.00" y1="216.40" x2="699.00" y2="211.80" stroke="#404040" stroke-width="1.0"/>
<line x1="490.30" y1="203.66" x2="494.90" y2="203.66" stroke="#404040" stroke-width="1.0"/>
<line x1="700.75" y1="203.66" x2="696.15" y2="203.66" stroke="#404040" stroke-width="1.0"/>
<line x1="490.30" y1="196.21" x2="494.90" y2="196.21" stroke="#404040" stroke-width="1.0"/>
<line x1="700.75" y1="196.21" x2="696.15" y2="196.21" stroke="#404040" stroke-width="1.0"/>
<line x1="490.30" y1="190.93" x2="494.90" y2="190.93" stroke="#404040" stroke-width="1.0"/>
<line x1="700.75" y1="190.93" x2="696.15" y2="190.93" stroke="#404040" stroke-width="1.0"/>
<line x1="490.30" y1="186.83" x2="494.90" y2="186.83" stroke="#404040" stroke-width="1.0"/>
<line x1="700.75" y1="186.83" x2="696.15" y2="186.83" stroke="#404040" stroke-width="1.0"/>
<line x1="490.30" y1="183.48" x2="494.90" y2="183.48" stroke="#404040" stroke-width="1.0"/>
<line x1="700.75" y1="183.48" x2="696.15" y2="183.48" stroke="#404040" stroke-width="1.0"/>
<line x1="490.30" y1="180.64" x2="494.90" y2="180.64" stroke="#404040" stroke-width="1.0"/>
<line x1="700.75" y1="180.64" x2="696.15" y2="180.64" stroke="#404040" stroke-width="1.0"/>
<line x1="490.30" y1="178.19" x2="494.90" y2="178.19" stroke="#404040" stroke-width="1.0"/>
<line x1="700.75" y1="178.19" x2="696.15" y2="178.19" stroke="#404040" stroke-width="1.0"/>
<line x1="490.30" y1="176.03" x2="494.90" y2="176.03" stroke="#404040" stroke-width="1.0"/>
<line x1="700.75" y1="176.03" x2="696.15" y2="176.03" stroke="#404040" stroke-width="1.0"/>
<line x1="490.30" y1="174.09" x2="499.30" y2="174.09" stroke="#404040" stroke-width="1.0"/>
<line x1="700.75" y1="174.09" x2="691.75" y2="174.09" stroke="#404040" stroke-width="1.0"/>
<line x1="490.30" y1="161.35" x2="494.90" y2="161.35" stroke="#404040" stroke-width="1.0"/>
<line x1="700.75" y1="161.35" x2="696.15" y2="161.35" stroke="#404040" stroke-width="1.0"/>
<line x1="490.30" y1="153.90" x2="494.90" y2="153.90" stroke="#404040" stroke-width="1.0"/>
<line x1="700.75" y1="153.90" x2="696.15" y2="153.90" stroke="#404040" stroke-width="1.0"/>
<line x1="490.30" y1="148.62" x2="494.90" y2="148.62" stroke="#404040" stroke-width="1.0"/>
<line x1="700.75" y1="148.62" x2="696.15" y2="148.62" stroke="#404040" stroke-width="1.0"/>
<line x1="490.30" y1="144.52" x2="494.90" y2="144.52" stroke="#404040" stroke-width="1.0"/>
<line x1="700.75" y1="144.52" x2="696.15" y2="144.52" stroke="#404040" stroke-width="1.0"/>
<line x1="490.30" y1="141.17" x2="494.90" y2="141.17" stroke="#404040" stroke-width="1.0"/>
<line x1="700.75" y1="141.17" x2="696.15" y2="141.17" stroke="#404040" stroke-width="1.0"/>
<line x1="490.30" y1="138.33" x2="494.90" y2="138.33" stroke="#404040" stroke-width="1.0"/>
<line x1="700.75" y1="138.33" x2="696.15" y2="138.33" stroke="#404040" stroke-width="1.0"/>
<line x1="490.30" y1="135.88" x2="494.90" y2="135.88" stroke="#404040" stroke-width="1.0"/>
<line x1="700.75" y1="135.88" x2="696.15" y2="135.88" stroke="#404040" stroke-width="1.0"/>
<line x1="490.30" y1="133.72" x2="494.90" y2="133.72" stroke="#404040" stroke-width="1.0"/>
<line x1="700.75" y1="133.72" x2="696.15" y2="133.72" stroke="#404040" stroke-width="1.0"/>
<line x1="490.30" y1="131.78" x2="499.30" y2="131.78" stroke="#404040" stroke-width="1.0"/>
<line x1="700.75" y1="131.78" x2="691.75" y2="131.78" stroke="#404040" stroke-width="1.0"/>
<line x1="490.30" y1="119.04" x2="494.90" y2="119.04" stroke="#404040" stroke-width="1.0"/>
<line x1="700.75" y1="119.04" x2="696.15" y2="119.04" stroke="#404040" stroke-width="1.0"/>
<line x1="490.30" y1="111.59" x2="494.90" y2="111.59" stroke="#404040" stroke-width="1.0"/>
<line x1="700.75" y1="111.59" x2="696.15" y2="111.59" stroke="#404040" stroke-width="1.0"/>
<line x1="490.30" y1="106.31" x2="494.90" y2="106.31" stroke="#404040" stroke-width="1.0"/>
<line x1="700.75" y1="106.31" x2="696.15" y2="106.31" stroke="#404040" stroke-width="1.0"/>
<line x1="490.30" y1="102.21" x2="494.90" y2="102.21" stroke="#404040" stroke-width="1.0"/>
<line x1="700.75" y1="102.21" x2="696.15" y2="102.21" stroke="#404040" stroke-width="1.0"/>
<line x1="490.30" y1="98.86" x2="494.90" y2="98.86" stroke="#404040" stroke-width="1.0"/>
<line x1="700.75" y1="98.86" x2="696.15" y2="98.86" stroke="#404040" stroke-width="1.0"/>
<line x1="490.30" y1="96.02" x2="494.90" y2="96.02" stroke="#404040" stroke-width="1.0"/>
<line x1="700.75" y1="96.02" x2="696.15" y2="96.02" stroke="#404040" stroke-width="1.0"/>
<line x1="490.30" y1="93.57" x2="494.90" y2="93.57" stroke="#404040" stroke-width="1.0"/>
<line x1="700.75" y1="93.57" x2="696.15" y2="93.57" stroke="#404040" stroke-width="1.0"/>
<line x1="490.30" y1="91.41" x2="494.90" y2="91.41" stroke="#404040" stroke-width="1.0"/>
<line x1="700.75" y1="91.41" x2="696.15" y2="91.41" stroke="#404040" stroke-width="1.0"/>
<line x1="490.30" y1="89.47" x2="499.30" y2="89.47" stroke="#404040" stroke-width="1.0"/>
<line x1="700.75" y1="89.47" x2="691.75" y2="89.47" stroke="#404040" stroke-width="1.0"/>
<line x1="490.30" y1="76.73" x2="494.90" y2="76.73" stroke="#404040" stroke-width="1.0"/>
<line x1="700.75" y1="76.73" x2="696.15" y2="76.73" stroke="#404040" stroke-width="1.0"/>
<line x1="490.30" y1="69.28" x2="494.90" y2="69.28" stroke="#404040" stroke-width="1.0"/>
<line x1="700.75" y1="69.28" x2="696.15" y2="69.28" stroke="#404040" stroke-width="1.0"/>
<line x1="490.30" y1="64.00" x2="494.90" y2="64.00" stroke="#404040" stroke-width="1.0"/>
<line x1="700.75" y1="64.00" x2="696.15" y2="64.00" stroke="#404040" stroke-width="1.0"/>
<line x1="490.30" y1="59.90" x2="494.90" y2="59.90" stroke="#404040" stroke-width="1.0"/>
<line x1="700.75" y1="59.90" x2="696.15" y2="59.90" stroke="#404040" stroke-width="1.0"/>
<line x1="490.30" y1="56.55" x2="494.90" y2="56.55" stroke="#404040" stroke-width="1.0"/>
<line x1="700.75" y1="56.55" x2="696.15" y2="56.55" stroke="#404040" stroke-width="1.0"/>
<line x1="490.30" y1="53.71" x2="494.90" y2="53.71" stroke="#404040" stroke-width="1.0"/>
<line x1="700.75" y1="53.71" x2="696.15" y2="53.71" stroke="#404040" stroke-width="1.0"/>
<line x1="490.30" y1="51.26" x2="494.90" y2="51.26" stroke="#404040" stroke-width="1.0"/>
<line x1="700.75" y1="51.26" x2="696.15" y2="51.26" stroke="#404040" stroke-width="1.0"/>
<line x1="490.30" y1="49.10" x2="494.90" y2="49.10" stroke="#404040" stroke-width="1.0"/>
<line x1="700.75" y1="49.10" x2="696.15" y2="49.10" stroke="#404040" stroke-width="1.0"/>
<line x1="490.30" y1="47.16" x2="499.30" y2="47.16" stroke="#404040" stroke-width="1.0"/>
<line x1="700.75" y1="47.16" x2="691.75" y2="47.16" stroke="#404040" stroke-width="1.0"/>
<line x1="490.30" y1="34.42" x2="494.90" y2="34.42" stroke="#404040" stroke-width="1.0"/>
<line x1="700.75" y1="34.42" x2="696.15" y2="34.42" stroke="#404040" stroke-width="1.0"/>
<line x1="490.30" y1="26.97" x2="494.90" y2="26.97" stroke="#404040" stroke-width="1.0"/>
<line x1="700.75" y1="26.97" x2="696.15" y2="26.97" stroke="#404040" stroke-width="1.0"/>
<line x1="490.30" y1="21.69" x2="494.90" y2="21.69" stroke="#404040" stroke-width="1.0"/>
<line x1="700.75" y1="21.69" x2="696.15" y2="21.69" stroke="#404040" stroke-width="1.0"/>
<line x1="490.30" y1="17.59" x2="494.90" y2="17.59" stroke="#404040" stroke-width="1.0"/>
<line x1="700.75" y1="17.59" x2="696.15" y2="17.59" stroke="#404040" stroke-width="1.0"/>
<line x1="490.30" y1="14.24" x2="494.90" y2="14.24" stroke="#404040" stroke-width="1.0"/>
<line x1="700.75" y1="14.24" x2="696.15" y2="14.24" stroke="#404040" stroke-width="1.0"/>
<line x1="490.30" y1="11.40" x2="494.90" y2="11.40" stroke="#404040" stroke-width="1.0"/>
<line x1="700.75" y1="11.40" x2="696.15" y2="11.40" stroke="#404040" stroke-width="1.0"/>
<line x1="490.30" y1="8.95" x2="494.90" y2="8.95" stroke="#404040" stroke-width="1.0"/>
<line x1="700.75" y1="8.95" x2="696.15" y2="8.95" stroke="#404040" stroke-width="1.0"/>
<line x1="490.30" y1="6.79" x2="494.90" y2="6.79" stroke="#404040" stroke-width="1.0"/>
<line x1="700.75" y1="6.79" x2="696.15" y2="6.79" stroke="#404040" stroke-width="1.0"/>
<line x1="506.19" y1="223.10" x2="506.19" y2="227.70" stroke="#404040" stroke-width="1.0"/>
<line x1="506.19" y1="372.60" x2="506.19" y2="368.00" stroke="#404040" stroke-width="1.0"/>
<line x1="515.48" y1="223.10" x2="515.48" y2="227.70" stroke="#404040" stroke-width="1.0"/>
<line x1="515.48" y1="372.60" x2="515.48" y2="368.00" stroke="#404040" stroke-width="1.0"/>
<line x1="522.08" y1="223.10" x2="522.08" y2="227.70" stroke="#404040" stroke-width="1.0"/>
<line x1="522.08" y1="372.60" x2="522.08" y2="368.00" stroke="#404040" stroke-width="1.0"/>
<line x1="527.19" y1="223.10" x2="527.19" y2="227.70" stroke="#404040" stroke-width="1.0"/>
<line x1="527.19" y1="372.60" x2="527.19" y2="368.00" stroke="#404040" stroke-width="1.0"/>
<line x1="531.37" y1="223.10" x2="531.37" y2="227.70" stroke="#404040" stroke-width="1.0"/>
<line x1="531.37" y1="372.60" x2="531.37" y2="368.00" stroke="#404040" stroke-width="1.0"/>
<line x1="534.90" y1="223.10" x2="534.90" y2="227.70" stroke="#404040" stroke-width="1.0"/>
<line x1="534.90" y1="372.60" x2="534.90" y2="368.00" stroke="#404040" stroke-width="1.0"/>
<line x1="537.97" y1="223.10" x2="537.97" y2="227.70" stroke="#404040" stroke-width="1.0"/>
<line x1="537.97" y1="372.60" x2="537.97" y2="368.00" stroke="#404040" stroke-width="1.0"/>
<line x1="540.66" y1="223.10" x2="540.66" y2="227.70" stroke="#404040" stroke-width="1.0"/>
<line x1="540.66" y1="372.60" x2="540.66" y2="368.00" stroke="#404040" stroke-width="1.0"/>
<line x1="543.08" y1="223.10" x2="543.08" y2="232.10" stroke="#404040" stroke-width="1.0"/>
<line x1="543.08" y1="372.60" x2="543.08" y2="363.60" stroke="#404040" stroke-width="1.0"/>
<line x1="558.97" y1="223.10" x2="558.97" y2="227.70" stroke="#404040" stroke-width="1.0"/>
<line x1="558.97" y1="372.60" x2="558.97" y2="368.00" stroke="#404040" stroke-width="1.0"/>
<line x1="568.26" y1="223.10" x2="568.26" y2="227.70" stroke="#404040" stroke-width="1.0"/>
<line x1="568.26" y1="372.60" x2="568.26" y2="368.00" stroke="#404040" stroke-width="1.0"/>
<line x1="574.86" y1="223.10" x2="574.86" y2="227.70" stroke="#404040" stroke-width="1.0"/>
<line x1="574.86" y1="372.60" x2="574.86" y2="368.00" stroke="#404040" stroke-width="1.0"/>
<line x1="579.97" y1="223.10" x2="579.97" y2="227.70" stroke="#404040" stroke-width="1.0"/>
<line x1="579.97" y1="372.60" x2="579.97" y2="368.00" stroke="#404040" stroke-width="1.0"/>
<line x1="584.15" y1="223.10" x2="584.15" y2="227.70" stroke="#404040" stroke-width="1.0"/>
<line x1="584.15" y1="372.60" x2="584.15" y2="368.00" stroke="#404040" stroke-width="1.0"/>
<line x1="587.68" y1="223.10" x2="587.68" y2="227.70" stroke="#404040" stroke-width="1.0"/>
<line x1="587.68" y1="372.60" x2="587.68" y2="368.00" stroke="#404040" stroke-width="1.0"/>
<line x1="590.75" y1="223.10" x2="590.75" y2="227.70" stroke="#404040" stroke-width="1.0"/>
<line x1="590.75" y1="372.60" x2="590.75" y2="368.00" stroke="#404040" stroke-width="1.0"/>
<line x1="593.44" y1="223.10" x2="593.44" y2="227.70" stroke="#404040" stroke-width="1.0"/>
<line x1="593.44" y1="372.60" x2="593.44" y2="368.00" stroke="#404040" stroke-width="1.0"/>
<line x1="595.86" y1="223.10" x2="595.86" y2="232.10" stroke="#404040" stroke-width="1.0"/>
<line x1="595.86" y1="372.60" x2="595.86" y2="363.60" stroke="#404040" stroke-width="1.0"/>
<line x1="611.75" y1="223.10" x2="611.75" y2="227.70" stroke="#404040" stroke-width="1.0"/>
<line x1="611.75" y1="372.60" x2="611.75" y2="368.00" stroke="#404040" stroke-width="1.0"/>
<line x1="621.04" y1="223.10" x2="621.04" y2="227.70" stroke="#404040" stroke-width="1.0"/>
<line x1="621.04" y1="372.60" x2="621.04" y2="368.00" stroke="#404040" stroke-width="1.0"/>
<line x1="627.64" y1="223.10" x2="627.64" y2="227.70" stroke="#404040" stroke-width="1.0"/>
<line x1="627.64" y1="372.60" x2="627.64" y2="368.00" stroke="#404040" stroke-width="1.0"/>
<line x1="632.75" y1="223.10" x2="632.75" y2="227.70" stroke="#404040" stroke-width="1.0"/>
<line x1="632.75" y1="372.60" x2="632.75" y2="368.00" stroke="#404040" stroke-width="1.0"/>
<line x1="636.93" y1="223.10" x2="636.93" y2="227.70" stroke="#404040" stroke-width="1.0"/>
<line x1="636.93" y1="372.60" x2="636.93" y2="368.00" stroke="#404040" stroke-width="1.0"/>
<line x1="640.46" y1="223.10" x2="640.46" y2="227.70" stroke="#404040" stroke-width="1.0"/>
<line x1="640.46" y1="372.60" x2="640.46" y2="368.00" stroke="#404040" stroke-width="1.0"/>
<line x1="643.53" y1="223.10" x2="643.53" y2="227.70" stroke="#404040" stroke-width="1.0"/>
<line x1="643.53" y1="372.60" x2="643.53" y2="368.00" stroke="#404040" stroke-width="1.0"/>
<line x1="646.22" y1="223.10" x2="646.22" y2="227.70" stroke="#404040" stroke-width="1.0"/>
<line x1="646.22" y1="372.60" x2="646.22" y2="368.00" stroke="#404040" stroke-width="1.0"/>
<line x1="648.64" y1="223.10" x2="648.64" y2="232.10" stroke="#404040" stroke-width="1.0"/>
<line x1="648.64" y1="372.60" x2="648.64" y2="363.60" stroke="#404040" stroke-width="1.0"/>
<line x1="664.53" y1="223.10" x2="664.53" y2="227.70" stroke="#404040" stroke-width="1.0"/>
<line x1="664.53" y1="372.60" x2="664.53" y2="368.00" stroke="#404040" stroke-width="1.0"/>
<line x1="673.82" y1="223.10" x2="673.82" y2="227.70" stroke="#404040" stroke-width="1.0"/>
<line x1="673.82" y1="372.60" x2="673.82" y2="368.00" stroke="#404040" stroke-width="1.0"/>
<line x1="680.42" y1="223.10" x2="680.42" y2="227.70" stroke="#404040" stroke-width="1.0"/>
<line x1="680.42" y1="372.60" x2="680.42" y2="368.00" stroke="#404040" stroke-width="1.0"/>
<line x1="685.53" y1="223.10" x2="685.53" y2="227.70" stroke="#404040" stroke-width="1.0"/>
<line x1="685.53" y1="372.60" x2="685.53" y2="368.00" stroke="#404040" stroke-width="1.0"/>
<line x1="689.71" y1="223.10" x2="689.71" y2="227.70" stroke="#404040" stroke-width="1.0"/>
<line x1="689.71" y1="372.60" x2="689.71" y2="368.00" stroke="#404040" stroke-width="1.0"/>
<line x1="693.24" y1="223.10" x2="693.24" y2="227.70" stroke="#404040" stroke-width="1.0"/>
<line x1="693.24" y1="372.60" x2="693.24" y2="368.00" stroke="#404040" stroke-width="1.0"/>
<line x1="696.31" y1="223.10" x2="696.31" y2="227.70" stroke="#404040" stroke-width="1.0"/>
<line x1="696.31" y1="372.60" x2="696.31" y2="368.00" stroke="#404040" stroke-width="1.0"/>
<line x1="699.00" y1="223.10" x2="699.00" y2="227.70" stroke="#404040" stroke-width="1.0"/>
<line x1="699.00" y1="372.60" x2="699.00" y2="368.00" stroke="#404040" stroke-width="1.0"/>
<line x1="490.30" y1="363.26" x2="494.90" y2="363.26" stroke="#404040" stroke-width="1.0"/>
<line x1="700.75" y1="363.26" x2="696.15" y2="363.26" stroke="#404040" stroke-width="1.0"/>
<line x1="490.30" y1="353.91" x2="499.30" y2="353.91" stroke="#404040" stroke-width="1.0"/>
<line x1="700.75" y1="353.91" x2="691.75" y2="353.91" stroke="#404040" stroke-width="1.0"/>
<line x1="490.30" y1="344.57" x2="494.90" y2="344.57" stroke="#404040" stroke-width="1.0"/>
<line x1="700.75" y1="344.57" x2="696.15" y2="344.57" stroke="#404040" stroke-width="1.0"/>
<line x1="490.30" y1="335.23" x2="494.90" y2="335.23" stroke="#404040" stroke-width="1.0"/>
<line x1="700.75" y1="335.23" x2="696.15" y2="335.23" stroke="#404040" stroke-width="1.0"/>
<line x1="490.30" y1="325.88" x2="494.90" y2="325.88" stroke="#404040" stroke-width="1.0"/>
<line x1="700.75" y1="325.88" x2="696.15" y2="325.88" stroke="#404040" stroke-width="1.0"/>
<line x1="490.30" y1="316.54" x2="494.90" y2="316.54" stroke="#404040" stroke-width="1.0"/>
<line x1="700.75" y1="316.54" x2="696.15" y2="316.54" stroke="#404040" stroke-width="1.0"/>
<line x1="490.30" y1="307.19" x2="499.30" y2="307.19" stroke="#404040" stroke-width="1.0"/>
<line x1="700.75" y1="307.19" x2="691.75" y2="307.19" stroke="#404040" stroke-width="1.0"/>
<line x1="490.30" y1="297.85" x2="494.90" y2="297.85" stroke="#404040" stroke-width="1.0"/>
<line x1="700.75" y1="297.85" x2="696.15" y2="297.85" stroke="#404040" stroke-width="1.0"/>
<line x1="490.30" y1="288.51" x2="494.90" y2="288.51" stroke="#404040" stroke-width="1.0"/>
<line x1="700.75" y1="288.51" x2="696.15" y2="288.51" stroke="#404040" stroke-width="1.0"/>
<line x1="490.30" y1="279.16" x2="494.90" y2="279.16" stroke="#404040" stroke-width="1.0"/>
<line x1="700.75" y1="279.16" x2="696.15" y2="279.16" stroke="#404040" stroke-width="1.0"/>
<line x1="490.30" y1="269.82" x2="494.90" y2="269.82" stroke="#404040" stroke-width="1.0"/>
<line x1="700.75" y1="269.82" x2="696.15" y2="269.82" stroke="#404040" stroke-width="1.0"/>
<line x1="490.30" y1="260.48" x2="499.30" y2="260.48" stroke="#404040" stroke-width="1.0"/>
<line x1="700.75" y1="260.48" x2="691.75" y2="260.48" stroke="#404040" stroke-width="1.0"/>
<line x1="490.30" y1="251.13" x2="494.90" y2="251.13" stroke="#404040" stroke-width="1.0"/>
<line x1="700.75" y1="251.13" x2="696.15" y2="251.13" stroke="#404040" stroke-width="1.0"/>
<line x1="490.30" y1="241.79" x2="494.90" y2="241.79" stroke="#404040" stroke-width="1.0"/>
<line x1="700.75" y1="241.79" x2="696.15" y2="241.79" stroke="#404040" stroke-width="1.0"/>
<line x1="490.30" y1="232.44" x2="494.90" y2="232.44" stroke="#404040" stroke-width="1.0"/>
<line x1="700.75" y1="232.44" x2="696.15" y2="232.44" stroke="#404040" stroke-width="1.0"/>
<line x1="54.80" y1="279.16" x2="265.92" y2="279.16" stroke="#555" stroke-width="1.0" stroke-dasharray="3 5.15"/>
<line x1="272.55" y1="279.16" x2="483.67" y2="279.16" stroke="#555" stroke-width="1.0" stroke-dasharray="3 5.15"/>
<line x1="490.30" y1="279.16" x2="700.75" y2="279.16" stroke="#555" stroke-width="1.0" stroke-dasharray="3 5.15"/>
<path d="M88.14,216.40 L88.16,215.67 L88.19,214.94 L88.22,214.21 L88.25,213.48 L88.29,212.75 L88.32,212.02 L88.35,211.29 L88.39,210.56 L88.43,209.83 L88.47,209.10 L88.51,208.37 L88.55,207.64 L88.59,206.91 L88.64,206.18 L88.68,205.45 L88.73,204.72 L88.78,203.99 L88.83,203.26 L88.89,202.52 L88.94,201.79 L89.00,201.06 L89.06,200.33 L89.12,199.60 L89.19,198.87 L89.25,198.14 L89.32,197.41 L89.39,196.68 L89.47,195.95 L89.55,195.22 L89.63,194.49 L89.71,193.76 L89.79,193.03 L89.88,192.30 L89.97,191.57 L90.07,190.84 L90.17,190.11 L90.27,189.38 L90.37,188.65 L90.48,187.92 L90.60,187.19 L90.71,186.46 L90.83,185.73 L90.96,185.00 L91.08,184.27 L91.22,183.54 L91.35,182.81 L91.50,182.08 L91.64,181.35 L91.79,180.62 L91.95,179.89 L92.11,179.16 L92.28,178.43 L92.45,177.70 L92.63,176.97 L92.81,176.24 L93.00,175.50 L93.19,174.77 L93.39,174.04 L93.60,173.31 L93.81,172.58 L94.03,171.85 L94.25,171.12 L94.48,170.39 L94.72,169.66 L94.96,168.93 L95.22,168.20 L95.47,167.47 L95.74,166.74 L96.01,166.01 L96.29,165.28 L96.58,164.55 L96.88,163.82 L97.18,163.09 L97.49,162.36 L97.81,161.63 L98.13,160.90 L98.47,160.17 L98.81,159.44 L99.16,158.71 L99.52,157.98 L99.89,157.25 L100.26,156.52 L100.65,155.79 L101.04,155.06 L101.44,154.33 L101.85,153.60 L102.26,152.87 L102.69,152.14 L103.12,151.41 L103.57,150.68 L104.02,149.95 L104.48,149.22 L104.95,148.48 L105.42,147.75 L105.91,147.02 L106.40,146.29 L106.91,145.56 L107.42,144.83 L107.93,144.10 L108.46,143.37 L109.00,142.64 L109.54,141.91 L110.09,141.18 L110.65,140.45 L111.22,139.72 L111.79,138.99 L112.38,138.26 L112.97,137.53 L113.57,136.80 L114.17,136.07 L114.78,135.34 L115.40,134.61 L116.03,133.88 L116.67,133.15 L117.31,132.42 L117.95,131.69 L118.61,130.96 L119.27,130.23 L119.94,129.50 L120.61,128.77 L121.29,128.04 L121.97,127.31 L122.67,126.58 L123.36,125.85 L124.07,125.12 L124.77,124.39 L125.49,123.66 L126.21,122.93 L126.93,122.20 L127.66,121.46 L128.39,120.73 L129.13,120.00 L129.88,119.27 L130.62,118.54 L131.38,117.81 L132.13,117.08 L132.89,116.35 L133.66,115.62 L134.43,114.89 L135.20,114.16 L135.98,113.43 L136.76,112.70 L137.54,111.97 L138.33,111.24 L139.12,110.51 L139.91,109.78 L140.71,109.05 L141.51,108.32 L142.31,107.59 L143.11,106.86 L143.92,106.13 L144.73,105.40 L145.55,104.67 L146.36,103.94 L147.18,103.21 L148.00,102.48 L148.82,101.75 L149.65,101.02 L150.47,100.29 L151.30,99.56 L152.13,98.83 L152.97,98.10 L153.80,97.37 L154.64,96.64 L155.48,95.91 L156.32,95.18 L157.16,94.44 L158.00,93.71 L158.84,92.98 L159.69,92.25 L160.54,91.52 L161.39,90.79 L162.24,90.06 L163.09,89.33 L163.94,88.60 L164.79,87.87 L165.65,87.14 L166.50,86.41 L167.36,85.68 L168.22,84.95 L169.08,84.22 L169.94,83.49 L170.80,82.76 L171.66,82.03 L172.52,81.30 L173.39,80.57 L174.25,79.84 L175.12,79.11 L175.98,78.38 L176.85,77.65 L177.71,76.92 L178.58,76.19 L179.45,75.46 L180.32,74.73 L181.19,74.00 L182.06,73.27 L182.93,72.54 L183.80,71.81 L184.67,71.08 L185.54,70.35 L246.48,216.40" fill="none" stroke="#1c1c1c" stroke-width="1.05" stroke-linejoin="round" stroke-linecap="round"/>
<path d="M89.72,216.40 L89.80,215.78 L89.87,215.17 L89.95,214.55 L90.03,213.93 L90.11,213.32 L90.19,212.70 L90.28,212.08 L90.37,211.47 L90.46,210.85 L90.55,210.24 L90.65,209.62 L90.75,209.00 L90.85,208.39 L90.95,207.77 L91.06,207.15 L91.17,206.54 L91.29,205.92 L91.41,205.30 L91.53,204.69 L91.65,204.07 L91.78,203.45 L91.91,202.84 L92.04,202.22 L92.18,201.61 L92.32,200.99 L92.47,200.37 L92.62,199.76 L92.77,199.14 L92.93,198.52 L93.09,197.91 L93.26,197.29 L93.43,196.67 L93.60,196.06 L93.78,195.44 L93.96,194.82 L94.15,194.21 L94.34,193.59 L94.54,192.97 L94.74,192.36 L94.95,191.74 L95.16,191.13 L95.38,190.51 L95.60,189.89 L95.83,189.28 L96.06,188.66 L96.29,188.04 L96.54,187.43 L96.78,186.81 L97.04,186.19 L97.30,185.58 L97.56,184.96 L97.83,184.34 L98.10,183.73 L98.39,183.11 L98.67,182.49 L98.96,181.88 L99.26,181.26 L99.57,180.65 L99.88,180.03 L100.19,179.41 L100.52,178.80 L100.84,178.18 L101.18,177.56 L101.52,176.95 L101.86,176.33 L102.22,175.71 L102.57,175.10 L102.94,174.48 L103.31,173.86 L103.68,173.25 L104.07,172.63 L104.45,172.02 L104.85,171.40 L105.25,170.78 L105.66,170.17 L106.07,169.55 L106.49,168.93 L106.91,168.32 L107.34,167.70 L107.78,167.08 L108.22,166.47 L108.67,165.85 L109.12,165.23 L109.58,164.62 L110.05,164.00 L110.52,163.38 L111.00,162.77 L111.48,162.15 L111.97,161.54 L112.46,160.92 L112.96,160.30 L113.46,159.69 L113.97,159.07 L114.49,158.45 L115.01,157.84 L115.53,157.22 L116.06,156.60 L116.60,155.99 L117.14,155.37 L117.68,154.75 L118.23,154.14 L118.79,153.52 L119.35,152.90 L119.91,152.29 L120.48,151.67 L121.05,151.06 L121.63,150.44 L122.21,149.82 L122.79,149.21 L123.38,148.59 L123.98,147.97 L124.57,147.36 L125.17,146.74 L125.78,146.12 L126.39,145.51 L127.00,144.89 L127.61,144.27 L128.23,143.66 L128.86,143.04 L129.48,142.43 L130.11,141.81 L130.74,141.19 L131.38,140.58 L132.02,139.96 L132.66,139.34 L133.30,138.73 L133.95,138.11 L134.60,137.49 L135.25,136.88 L135.91,136.26 L136.56,135.64 L137.22,135.03 L137.89,134.41 L138.55,133.79 L139.22,133.18 L139.89,132.56 L140.56,131.95 L141.24,131.33 L141.91,130.71 L142.59,130.10 L143.27,129.48 L143.95,128.86 L144.64,128.25 L145.32,127.63 L146.01,127.01 L146.70,126.40 L147.39,125.78 L148.09,125.16 L148.78,124.55 L149.48,123.93 L150.17,123.32 L150.87,122.70 L151.57,122.08 L152.27,121.47 L152.98,120.85 L153.68,120.23 L154.39,119.62 L155.09,119.00 L155.80,118.38 L156.51,117.77 L157.22,117.15 L157.93,116.53 L158.65,115.92 L159.36,115.30 L160.08,114.68 L160.79,114.07 L161.51,113.45 L162.23,112.84 L162.94,112.22 L163.66,111.60 L164.38,110.99 L165.10,110.37 L165.83,109.75 L166.55,109.14 L167.27,108.52 L168.00,107.90 L168.72,107.29 L169.45,106.67 L170.17,106.05 L170.90,105.44 L171.63,104.82 L172.35,104.20 L173.08,103.59 L173.81,102.97 L174.54,102.36 L175.27,101.74 L176.00,101.12 L176.73,100.51 L177.47,99.89 L178.20,99.27 L178.93,98.66 L179.66,98.04 L180.40,97.42 L181.13,96.81 L181.87,96.19 L182.60,95.57 L183.34,94.96 L184.07,94.34 L184.81,93.73 L185.54,93.11 L236.98,216.40" fill="none" stroke="#0000ff" stroke-width="1.05" stroke-linejoin="round" stroke-linecap="round"/>
<path d="M93.47,216.40 L93.62,215.88 L93.77,215.37 L93.92,214.85 L94.08,214.33 L94.24,213.81 L94.40,213.30 L94.57,212.78 L94.74,212.26 L94.91,211.75 L95.08,211.23 L95.26,210.71 L95.45,210.20 L95.63,209.68 L95.83,209.16 L96.02,208.64 L96.22,208.13 L96.42,207.61 L96.62,207.09 L96.83,206.58 L97.05,206.06 L97.26,205.54 L97.48,205.03 L97.71,204.51 L97.94,203.99 L98.17,203.47 L98.40,202.96 L98.64,202.44 L98.89,201.92 L99.14,201.41 L99.39,200.89 L99.65,200.37 L99.91,199.86 L100.17,199.34 L100.44,198.82 L100.72,198.30 L100.99,197.79 L101.28,197.27 L101.56,196.75 L101.85,196.24 L102.15,195.72 L102.45,195.20 L102.75,194.68 L103.06,194.17 L103.37,193.65 L103.68,193.13 L104.00,192.62 L104.33,192.10 L104.66,191.58 L104.99,191.07 L105.33,190.55 L105.67,190.03 L106.02,189.51 L106.37,189.00 L106.72,188.48 L107.08,187.96 L107.44,187.45 L107.81,186.93 L108.18,186.41 L108.55,185.90 L108.93,185.38 L109.32,184.86 L109.70,184.34 L110.09,183.83 L110.49,183.31 L110.89,182.79 L111.29,182.28 L111.70,181.76 L112.11,181.24 L112.53,180.73 L112.94,180.21 L113.37,179.69 L113.79,179.17 L114.22,178.66 L114.66,178.14 L115.09,177.62 L115.53,177.11 L115.98,176.59 L116.43,176.07 L116.88,175.55 L117.33,175.04 L117.79,174.52 L118.25,174.00 L118.72,173.49 L119.18,172.97 L119.66,172.45 L120.13,171.94 L120.61,171.42 L121.09,170.90 L121.57,170.38 L122.06,169.87 L122.55,169.35 L123.04,168.83 L123.53,168.32 L124.03,167.80 L124.53,167.28 L125.04,166.77 L125.54,166.25 L126.05,165.73 L126.56,165.21 L127.08,164.70 L127.59,164.18 L128.11,163.66 L128.63,163.15 L129.16,162.63 L129.68,162.11 L130.21,161.60 L130.74,161.08 L131.27,160.56 L131.81,160.04 L132.35,159.53 L132.89,159.01 L133.43,158.49 L133.97,157.98 L134.51,157.46 L135.06,156.94 L135.61,156.42 L136.16,155.91 L136.71,155.39 L137.27,154.87 L137.82,154.36 L138.38,153.84 L138.94,153.32 L139.50,152.81 L140.06,152.29 L140.63,151.77 L141.19,151.25 L141.76,150.74 L142.33,150.22 L142.90,149.70 L143.47,149.19 L144.04,148.67 L144.62,148.15 L145.19,147.64 L145.77,147.12 L146.34,146.60 L146.92,146.08 L147.50,145.57 L148.09,145.05 L148.67,144.53 L149.25,144.02 L149.84,143.50 L150.42,142.98 L151.01,142.46 L151.60,141.95 L152.18,141.43 L152.77,140.91 L153.36,140.40 L153.96,139.88 L154.55,139.36 L155.14,138.85 L155.73,138.33 L156.33,137.81 L156.92,137.29 L157.52,136.78 L158.12,136.26 L158.72,135.74 L159.32,135.23 L159.91,134.71 L160.51,134.19 L161.12,133.68 L161.72,133.16 L162.32,132.64 L162.92,132.12 L163.52,131.61 L164.13,131.09 L164.73,130.57 L165.34,130.06 L165.94,129.54 L166.55,129.02 L167.16,128.51 L167.76,127.99 L168.37,127.47 L168.98,126.95 L169.59,126.44 L170.20,125.92 L170.81,125.40 L171.42,124.89 L172.03,124.37 L172.64,123.85 L173.25,123.33 L173.86,122.82 L174.47,122.30 L175.08,121.78 L175.70,121.27 L176.31,120.75 L176.92,120.23 L177.54,119.72 L178.15,119.20 L178.77,118.68 L179.38,118.16 L179.99,117.65 L180.61,117.13 L181.23,116.61 L181.84,116.10 L182.46,115.58 L183.07,115.06 L183.69,114.55 L184.31,114.03 L184.93,113.51 L185.54,112.99 L228.68,216.40" fill="none" stroke="#ff0000" stroke-width="1.05" stroke-linejoin="round" stroke-linecap="round"/>
<path d="M102.79,216.40 L103.04,215.99 L103.28,215.58 L103.53,215.18 L103.78,214.77 L104.03,214.36 L104.29,213.95 L104.55,213.54 L104.81,213.14 L105.07,212.73 L105.34,212.32 L105.61,211.91 L105.88,211.50 L106.16,211.09 L106.43,210.69 L106.71,210.28 L107.00,209.87 L107.28,209.46 L107.57,209.05 L107.86,208.65 L108.15,208.24 L108.45,207.83 L108.75,207.42 L109.05,207.01 L109.35,206.61 L109.66,206.20 L109.96,205.79 L110.27,205.38 L110.59,204.97 L110.90,204.57 L111.22,204.16 L111.54,203.75 L111.86,203.34 L112.19,202.93 L112.52,202.53 L112.85,202.12 L113.18,201.71 L113.51,201.30 L113.85,200.89 L114.19,200.48 L114.53,200.08 L114.88,199.67 L115.22,199.26 L115.57,198.85 L115.92,198.44 L116.27,198.04 L116.63,197.63 L116.99,197.22 L117.35,196.81 L117.71,196.40 L118.07,196.00 L118.44,195.59 L118.80,195.18 L119.17,194.77 L119.54,194.36 L119.92,193.96 L120.29,193.55 L120.67,193.14 L121.05,192.73 L121.43,192.32 L121.81,191.92 L122.20,191.51 L122.59,191.10 L122.97,190.69 L123.37,190.28 L123.76,189.87 L124.15,189.47 L124.55,189.06 L124.94,188.65 L125.34,188.24 L125.74,187.83 L126.15,187.43 L126.55,187.02 L126.95,186.61 L127.36,186.20 L127.77,185.79 L128.18,185.39 L128.59,184.98 L129.00,184.57 L129.42,184.16 L129.83,183.75 L130.25,183.35 L130.67,182.94 L131.09,182.53 L131.51,182.12 L131.93,181.71 L132.36,181.31 L132.78,180.90 L133.21,180.49 L133.64,180.08 L134.07,179.67 L134.50,179.26 L134.93,178.86 L135.36,178.45 L135.80,178.04 L136.23,177.63 L136.67,177.22 L137.10,176.82 L137.54,176.41 L137.98,176.00 L138.42,175.59 L138.86,175.18 L139.30,174.78 L139.75,174.37 L140.19,173.96 L140.64,173.55 L141.08,173.14 L141.53,172.74 L141.98,172.33 L142.43,171.92 L142.88,171.51 L143.33,171.10 L143.78,170.70 L144.23,170.29 L144.69,169.88 L145.14,169.47 L145.59,169.06 L146.05,168.65 L146.51,168.25 L146.96,167.84 L147.42,167.43 L147.88,167.02 L148.34,166.61 L148.80,166.21 L149.26,165.80 L149.72,165.39 L150.18,164.98 L150.65,164.57 L151.11,164.17 L151.57,163.76 L152.04,163.35 L152.50,162.94 L152.97,162.53 L153.43,162.13 L153.90,161.72 L154.37,161.31 L154.84,160.90 L155.30,160.49 L155.77,160.08 L156.24,159.68 L156.71,159.27 L157.18,158.86 L157.65,158.45 L158.13,158.04 L158.60,157.64 L159.07,157.23 L159.54,156.82 L160.02,156.41 L160.49,156.00 L160.96,155.60 L161.44,155.19 L161.91,154.78 L162.39,154.37 L162.86,153.96 L163.34,153.56 L163.82,153.15 L164.29,152.74 L164.77,152.33 L165.25,151.92 L165.72,151.52 L166.20,151.11 L166.68,150.70 L167.16,150.29 L167.64,149.88 L168.12,149.47 L168.60,149.07 L169.08,148.66 L169.56,148.25 L170.04,147.84 L170.52,147.43 L171.00,147.03 L171.48,146.62 L171.97,146.21 L172.45,145.80 L172.93,145.39 L173.41,144.99 L173.89,144.58 L174.38,144.17 L174.86,143.76 L175.34,143.35 L175.83,142.95 L176.31,142.54 L176.80,142.13 L177.28,141.72 L177.76,141.31 L178.25,140.91 L178.73,140.50 L179.22,140.09 L179.71,139.68 L180.19,139.27 L180.68,138.86 L181.16,138.46 L181.65,138.05 L182.13,137.64 L182.62,137.23 L183.11,136.82 L183.59,136.42 L184.08,136.01 L184.57,135.60 L185.06,135.19 L185.54,134.78 L219.59,216.40" fill="none" stroke="#00ff00" stroke-width="1.05" stroke-linejoin="round" stroke-linecap="round"/>
<path d="M91.07,372.60 L91.17,370.96 L91.28,369.36 L91.38,367.81 L91.49,366.31 L91.61,364.85 L91.72,363.44 L91.84,362.06 L91.96,360.73 L92.09,359.43 L92.22,358.18 L92.35,356.96 L92.48,355.78 L92.62,354.63 L92.76,353.51 L92.90,352.43 L93.05,351.38 L93.20,350.36 L93.36,349.38 L93.51,348.42 L93.68,347.49 L93.84,346.58 L94.01,345.70 L94.19,344.85 L94.36,344.03 L94.54,343.23 L94.73,342.45 L94.92,341.69 L95.11,340.96 L95.31,340.25 L95.51,339.56 L95.72,338.89 L95.93,338.24 L96.14,337.61 L96.36,336.99 L96.58,336.40 L96.81,335.82 L97.05,335.26 L97.28,334.72 L97.53,334.19 L97.77,333.68 L98.02,333.18 L98.28,332.70 L98.54,332.23 L98.81,331.78 L99.08,331.34 L99.35,330.91 L99.63,330.49 L99.92,330.09 L100.21,329.70 L100.51,329.32 L100.81,328.95 L101.11,328.59 L101.42,328.25 L101.74,327.91 L102.06,327.58 L102.39,327.27 L102.72,326.96 L103.06,326.66 L103.40,326.37 L103.74,326.09 L104.10,325.81 L104.45,325.55 L104.81,325.29 L105.18,325.04 L105.55,324.80 L105.93,324.56 L106.31,324.34 L106.70,324.11 L107.09,323.90 L107.49,323.69 L107.89,323.49 L108.30,323.29 L108.71,323.10 L109.13,322.92 L109.55,322.74 L109.98,322.56 L110.41,322.39 L110.85,322.23 L111.29,322.07 L111.74,321.91 L112.19,321.76 L112.64,321.62 L113.10,321.48 L113.57,321.34 L114.03,321.21 L114.51,321.08 L114.98,320.95 L115.47,320.83 L115.95,320.71 L116.44,320.60 L116.94,320.48 L117.44,320.38 L117.94,320.27 L118.44,320.17 L118.96,320.07 L119.47,319.98 L119.99,319.88 L120.51,319.79 L121.04,319.70 L121.56,319.62 L122.10,319.54 L122.63,319.46 L123.17,319.38 L123.72,319.30 L124.26,319.23 L124.81,319.16 L125.37,319.09 L125.92,319.02 L126.48,318.96 L127.04,318.90 L127.61,318.83 L128.18,318.77 L128.75,318.72 L129.32,318.66 L129.90,318.61 L130.48,318.55 L131.06,318.50 L131.65,318.45 L132.23,318.40 L132.82,318.36 L133.42,318.31 L134.01,318.27 L134.61,318.23 L135.21,318.18 L135.81,318.14 L136.41,318.11 L137.02,318.07 L137.63,318.03 L138.24,317.99 L138.85,317.96 L139.46,317.93 L140.08,317.89 L140.70,317.86 L141.32,317.83 L141.94,317.80 L142.56,317.77 L143.18,317.74 L143.81,317.72 L144.44,317.69 L145.07,317.66 L145.70,317.64 L146.33,317.62 L146.96,317.59 L147.60,317.57 L148.24,317.55 L148.87,317.53 L149.51,317.50 L150.15,317.48 L150.80,317.46 L151.44,317.45 L152.08,317.43 L152.73,317.41 L153.38,317.39 L154.02,317.37 L154.67,317.36 L155.32,317.34 L155.97,317.33 L156.62,317.31 L157.28,317.30 L157.93,317.28 L158.58,317.27 L159.24,317.26 L159.90,317.24 L160.55,317.23 L161.21,317.22 L161.87,317.21 L162.53,317.20 L163.19,317.18 L163.85,317.17 L164.51,317.16 L165.17,317.15 L165.84,317.14 L166.50,317.13 L167.16,317.12 L167.83,317.12 L168.50,317.11 L169.16,317.10 L169.83,317.09 L170.49,317.08 L171.16,317.07 L171.83,317.07 L172.50,317.06 L173.17,317.05 L173.84,317.04 L174.51,317.04 L175.18,317.03 L175.85,317.03 L176.52,317.02 L177.19,317.01 L177.87,317.01 L178.54,317.00 L179.21,317.00 L179.88,316.99 L180.56,316.99 L181.23,316.98 L181.91,316.98 L182.58,316.97 L183.26,316.97 L183.93,316.96 L184.61,316.96 L186.10,281.00 L186.60,279.40 L187.60,279.10 L265.92,279.10" fill="none" stroke="#1c1c1c" stroke-width="1.05" stroke-linejoin="round" stroke-linecap="round"/>
<path d="M327.10,216.40 L328.72,213.25 L330.33,210.11 L331.94,206.96 L333.54,203.81 L335.14,200.66 L336.73,197.52 L338.31,194.37 L339.88,191.22 L341.45,188.07 L343.00,184.93 L344.55,181.78 L346.09,178.63 L347.62,175.48 L349.14,172.34 L350.66,169.19 L352.16,166.04 L353.65,162.89 L355.13,159.75 L356.61,156.60 L358.07,153.45 L359.52,150.30 L360.95,147.16 L362.38,144.01 L363.79,140.86 L365.19,137.71 L366.58,134.57 L367.96,131.42 L369.32,128.27 L370.67,125.12 L372.00,121.98 L373.33,118.83 L374.63,115.68 L375.92,112.53 L377.20,109.39 L378.46,106.24 L379.71,103.09 L380.94,99.94 L382.15,96.80 L383.35,93.65 L384.53,90.50 L385.69,87.35 L386.84,84.21 L387.97,81.06 L389.08,77.91 L390.17,74.76 L391.25,71.62 L392.30,68.47 L393.34,65.32 L394.35,62.17 L395.35,59.03 L396.33,55.88 L397.29,52.73 L398.22,49.58 L399.14,46.44 L400.04,43.29 L400.91,40.14 L401.76,36.99 L402.59,33.85 L403.40,30.70 L403.90,33.85 L404.42,36.99 L404.96,40.14 L405.53,43.29 L406.11,46.44 L406.71,49.58 L407.34,52.73 L407.98,55.88 L408.64,59.03 L409.32,62.17 L410.02,65.32 L410.74,68.47 L411.47,71.62 L412.22,74.76 L412.99,77.91 L413.78,81.06 L414.58,84.21 L415.40,87.35 L416.24,90.50 L417.09,93.65 L417.96,96.80 L418.84,99.94 L419.74,103.09 L420.65,106.24 L421.57,109.39 L422.51,112.53 L423.47,115.68 L424.43,118.83 L425.41,121.98 L426.40,125.12 L427.41,128.27 L428.42,131.42 L429.45,134.57 L430.49,137.71 L431.54,140.86 L432.60,144.01 L433.68,147.16 L434.76,150.30 L435.85,153.45 L436.95,156.60 L438.06,159.75 L439.18,162.89 L440.31,166.04 L441.45,169.19 L442.59,172.34 L443.75,175.48 L444.91,178.63 L446.07,181.78 L447.25,184.93 L448.43,188.07 L449.62,191.22 L450.81,194.37 L452.01,197.52 L453.21,200.66 L454.42,203.81 L455.63,206.96 L456.85,210.11 L458.07,213.25 L459.30,216.40" fill="none" stroke="#1c1c1c" stroke-width="1.05" stroke-linejoin="round" stroke-linecap="round"/>
<path d="M337.00,216.40 L338.60,213.64 L340.18,210.87 L341.74,208.11 L343.28,205.34 L344.79,202.58 L346.28,199.81 L347.76,197.05 L349.21,194.28 L350.64,191.52 L352.05,188.76 L353.44,185.99 L354.81,183.23 L356.16,180.46 L357.50,177.70 L358.81,174.93 L360.11,172.17 L361.39,169.41 L362.65,166.64 L363.90,163.88 L365.13,161.11 L366.34,158.35 L367.53,155.58 L368.71,152.82 L369.88,150.05 L371.03,147.29 L372.16,144.53 L373.28,141.76 L374.39,139.00 L375.48,136.23 L376.56,133.47 L377.62,130.70 L378.67,127.94 L379.71,125.17 L380.74,122.41 L381.76,119.65 L382.76,116.88 L383.75,114.12 L384.73,111.35 L385.71,108.59 L386.67,105.82 L387.62,103.06 L388.56,100.29 L389.49,97.53 L390.41,94.77 L391.33,92.00 L392.23,89.24 L393.13,86.47 L394.02,83.71 L394.90,80.94 L395.78,78.18 L396.65,75.42 L397.51,72.65 L398.37,69.89 L399.22,67.12 L400.07,64.36 L400.91,61.59 L401.74,58.83 L402.57,56.06 L403.40,53.30 L403.92,56.06 L404.45,58.83 L405.00,61.59 L405.55,64.36 L406.11,67.12 L406.69,69.89 L407.27,72.65 L407.87,75.42 L408.47,78.18 L409.09,80.94 L409.72,83.71 L410.35,86.47 L411.00,89.24 L411.66,92.00 L412.33,94.77 L413.00,97.53 L413.69,100.29 L414.39,103.06 L415.10,105.82 L415.82,108.59 L416.55,111.35 L417.29,114.12 L418.04,116.88 L418.80,119.65 L419.57,122.41 L420.35,125.17 L421.14,127.94 L421.94,130.70 L422.75,133.47 L423.57,136.23 L424.40,139.00 L425.24,141.76 L426.08,144.53 L426.94,147.29 L427.81,150.05 L428.69,152.82 L429.58,155.58 L430.47,158.35 L431.38,161.11 L432.30,163.88 L433.22,166.64 L434.16,169.41 L435.11,172.17 L436.06,174.93 L437.02,177.70 L438.00,180.46 L438.98,183.23 L439.97,185.99 L440.98,188.76 L441.99,191.52 L443.01,194.28 L444.04,197.05 L445.08,199.81 L446.12,202.58 L447.18,205.34 L448.25,208.11 L449.32,210.87 L450.41,213.64 L451.50,216.40" fill="none" stroke="#0000ff" stroke-width="1.05" stroke-linejoin="round" stroke-linecap="round"/>
<path d="M347.20,216.40 L348.52,213.97 L349.82,211.54 L351.11,209.11 L352.38,206.68 L353.64,204.26 L354.88,201.83 L356.11,199.40 L357.33,196.97 L358.53,194.54 L359.72,192.11 L360.89,189.68 L362.06,187.25 L363.20,184.83 L364.34,182.40 L365.46,179.97 L366.56,177.54 L367.66,175.11 L368.74,172.68 L369.81,170.25 L370.86,167.82 L371.91,165.39 L372.94,162.97 L373.95,160.54 L374.96,158.11 L375.95,155.68 L376.93,153.25 L377.90,150.82 L378.86,148.39 L379.81,145.96 L380.74,143.54 L381.66,141.11 L382.57,138.68 L383.47,136.25 L384.36,133.82 L385.24,131.39 L386.11,128.96 L386.96,126.53 L387.81,124.11 L388.64,121.68 L389.47,119.25 L390.28,116.82 L391.09,114.39 L391.88,111.96 L392.66,109.53 L393.44,107.10 L394.20,104.67 L394.96,102.25 L395.70,99.82 L396.44,97.39 L397.16,94.96 L397.88,92.53 L398.59,90.10 L399.29,87.67 L399.98,85.24 L400.66,82.82 L401.33,80.39 L402.00,77.96 L402.65,75.53 L403.30,73.10 L403.73,75.53 L404.17,77.96 L404.61,80.39 L405.07,82.82 L405.53,85.24 L406.01,87.67 L406.49,90.10 L406.98,92.53 L407.48,94.96 L407.99,97.39 L408.51,99.82 L409.04,102.25 L409.58,104.67 L410.12,107.10 L410.68,109.53 L411.24,111.96 L411.81,114.39 L412.39,116.82 L412.98,119.25 L413.58,121.68 L414.19,124.11 L414.81,126.53 L415.43,128.96 L416.06,131.39 L416.71,133.82 L417.36,136.25 L418.02,138.68 L418.69,141.11 L419.36,143.54 L420.05,145.96 L420.75,148.39 L421.45,150.82 L422.16,153.25 L422.88,155.68 L423.61,158.11 L424.35,160.54 L425.10,162.97 L425.85,165.39 L426.62,167.82 L427.39,170.25 L428.17,172.68 L428.96,175.11 L429.76,177.54 L430.57,179.97 L431.39,182.40 L432.21,184.83 L433.04,187.25 L433.88,189.68 L434.73,192.11 L435.59,194.54 L436.46,196.97 L437.34,199.40 L438.22,201.83 L439.11,204.26 L440.01,206.68 L440.92,209.11 L441.84,211.54 L442.77,213.97 L443.70,216.40" fill="none" stroke="#ff0000" stroke-width="1.05" stroke-linejoin="round" stroke-linecap="round"/>
<path d="M359.10,216.40 L359.98,214.35 L360.86,212.29 L361.75,210.24 L362.63,208.18 L363.52,206.13 L364.41,204.07 L365.30,202.02 L366.19,199.97 L367.08,197.91 L367.97,195.86 L368.86,193.80 L369.74,191.75 L370.63,189.69 L371.51,187.64 L372.39,185.59 L373.27,183.53 L374.15,181.48 L375.02,179.42 L375.89,177.37 L376.75,175.32 L377.61,173.26 L378.47,171.21 L379.32,169.15 L380.16,167.10 L381.00,165.04 L381.83,162.99 L382.66,160.94 L383.48,158.88 L384.29,156.83 L385.09,154.77 L385.88,152.72 L386.67,150.66 L387.45,148.61 L388.22,146.56 L388.97,144.50 L389.72,142.45 L390.46,140.39 L391.19,138.34 L391.90,136.28 L392.61,134.23 L393.30,132.18 L393.98,130.12 L394.64,128.07 L395.30,126.01 L395.94,123.96 L396.57,121.91 L397.18,119.85 L397.78,117.80 L398.36,115.74 L398.93,113.69 L399.48,111.63 L400.02,109.58 L400.54,107.53 L401.04,105.47 L401.53,103.42 L402.00,101.36 L402.45,99.31 L402.89,97.25 L403.30,95.20 L403.61,97.25 L403.94,99.31 L404.28,101.36 L404.62,103.42 L404.98,105.47 L405.35,107.53 L405.72,109.58 L406.11,111.63 L406.51,113.69 L406.91,115.74 L407.33,117.80 L407.75,119.85 L408.19,121.91 L408.63,123.96 L409.08,126.01 L409.54,128.07 L410.01,130.12 L410.49,132.18 L410.97,134.23 L411.47,136.28 L411.97,138.34 L412.48,140.39 L413.00,142.45 L413.52,144.50 L414.05,146.56 L414.59,148.61 L415.14,150.66 L415.70,152.72 L416.26,154.77 L416.82,156.83 L417.40,158.88 L417.98,160.94 L418.57,162.99 L419.16,165.04 L419.76,167.10 L420.37,169.15 L420.98,171.21 L421.59,173.26 L422.22,175.32 L422.84,177.37 L423.48,179.42 L424.11,181.48 L424.76,183.53 L425.41,185.59 L426.06,187.64 L426.71,189.69 L427.38,191.75 L428.04,193.80 L428.71,195.86 L429.38,197.91 L430.06,199.97 L430.74,202.02 L431.43,204.07 L432.11,206.13 L432.81,208.18 L433.50,210.24 L434.20,212.29 L434.90,214.35 L435.60,216.40" fill="none" stroke="#00ff00" stroke-width="1.05" stroke-linejoin="round" stroke-linecap="round"/>
<path d="M309.40,372.30 L309.53,371.47 L309.66,370.64 L309.78,369.81 L309.90,368.97 L310.02,368.14 L310.15,367.30 L310.27,366.47 L310.40,365.65 L310.54,364.82 L310.68,364.01 L310.84,363.20 L311.00,362.40 L311.16,361.65 L311.33,360.89 L311.50,360.13 L311.68,359.37 L311.87,358.62 L312.06,357.87 L312.25,357.14 L312.45,356.42 L312.66,355.71 L312.87,355.02 L313.08,354.35 L313.30,353.70 L313.48,353.19 L313.66,352.71 L313.84,352.24 L314.02,351.79 L314.20,351.34 L314.39,350.91 L314.59,350.47 L314.79,350.04 L315.00,349.59 L315.22,349.14 L315.45,348.68 L315.70,348.20 L316.02,347.58 L316.35,346.94 L316.69,346.28 L317.05,345.61 L317.42,344.92 L317.81,344.24 L318.21,343.56 L318.62,342.89 L319.05,342.23 L319.48,341.59 L319.94,340.98 L320.40,340.40 L320.86,339.87 L321.33,339.35 L321.82,338.84 L322.32,338.35 L322.83,337.87 L323.35,337.41 L323.89,336.96 L324.43,336.52 L324.99,336.09 L325.55,335.68 L326.12,335.28 L326.70,334.90 L327.29,334.52 L327.89,334.16 L328.50,333.82 L329.11,333.48 L329.73,333.17 L330.37,332.86 L331.02,332.57 L331.68,332.29 L332.36,332.02 L333.05,331.77 L333.77,331.53 L334.50,331.30 L335.44,331.04 L336.42,330.79 L337.45,330.57 L338.51,330.37 L339.60,330.18 L340.70,330.01 L341.80,329.86 L342.91,329.73 L344.00,329.62 L345.06,329.53 L346.10,329.46 L347.10,329.40 L347.93,329.37 L348.74,329.35 L349.55,329.35 L350.34,329.36 L351.12,329.38 L351.89,329.42 L352.66,329.47 L353.43,329.53 L354.19,329.61 L354.96,329.69 L355.73,329.79 L356.50,329.90 L357.28,330.02 L358.06,330.15 L358.84,330.29 L359.61,330.45 L360.37,330.61 L361.14,330.79 L361.92,330.99 L362.70,331.19 L363.48,331.42 L364.28,331.66 L365.08,331.92 L365.90,332.20 L366.90,332.57 L367.92,332.97 L368.95,333.41 L370.00,333.87 L371.05,334.36 L372.12,334.86 L373.19,335.38 L374.26,335.91 L375.33,336.44 L376.39,336.97 L377.45,337.49 L378.50,338.00 L379.55,338.51 L380.60,339.02 L381.66,339.54 L382.72,340.06 L383.77,340.59 L384.82,341.11 L385.87,341.64 L386.92,342.18 L387.95,342.71 L388.98,343.24 L390.00,343.77 L391.00,344.30 L391.93,344.80 L392.85,345.30 L393.76,345.79 L394.67,346.29 L395.56,346.79 L396.46,347.30 L397.35,347.80 L398.23,348.30 L399.12,348.80 L400.01,349.30 L400.90,349.80 L401.80,350.30 L402.40,330.00 L403.30,262.00 L404.40,238.20 L404.58,238.90 L404.76,239.61 L404.93,240.32 L405.10,241.03 L405.27,241.74 L405.45,242.45 L405.62,243.15 L405.80,243.86 L405.99,244.55 L406.18,245.24 L406.39,245.93 L406.60,246.60 L406.81,247.23 L407.02,247.86 L407.24,248.48 L407.46,249.09 L407.69,249.70 L407.92,250.31 L408.16,250.91 L408.41,251.51 L408.67,252.11 L408.93,252.71 L409.21,253.30 L409.50,253.90 L409.81,254.52 L410.13,255.15 L410.46,255.78 L410.79,256.40 L411.14,257.03 L411.50,257.65 L411.87,258.26 L412.25,258.87 L412.64,259.47 L413.04,260.06 L413.46,260.64 L413.90,261.20 L414.36,261.77 L414.83,262.33 L415.31,262.88 L415.81,263.42 L416.32,263.95 L416.85,264.48 L417.38,264.99 L417.94,265.50 L418.50,265.99 L419.09,266.47 L419.69,266.94 L420.30,267.40 L421.00,267.89 L421.71,268.36 L422.45,268.82 L423.21,269.27 L423.98,269.71 L424.77,270.13 L425.58,270.54 L426.40,270.93 L427.24,271.32 L428.08,271.69 L428.94,272.05 L429.80,272.40 L430.77,272.77 L431.75,273.13 L432.76,273.46 L433.77,273.79 L434.81,274.09 L435.86,274.39 L436.92,274.67 L438.00,274.94 L439.08,275.19 L440.18,275.44 L441.29,275.67 L442.40,275.90 L443.65,276.13 L444.92,276.35 L446.21,276.55 L447.52,276.73 L448.84,276.90 L450.17,277.06 L451.51,277.20 L452.86,277.34 L454.20,277.46 L455.54,277.58 L456.88,277.69 L458.20,277.80 L459.53,277.90 L460.88,277.98 L462.24,278.05 L463.61,278.11 L464.97,278.16 L466.34,278.20 L467.69,278.24 L469.02,278.28 L470.32,278.31 L471.59,278.34 L472.82,278.37 L474.00,278.40 L474.89,278.42 L475.75,278.45 L476.58,278.47 L477.40,278.48 L478.20,278.50 L478.98,278.51 L479.76,278.53 L480.53,278.54 L481.31,278.56 L482.09,278.57 L482.87,278.58 L483.67,278.60" fill="none" stroke="#1c1c1c" stroke-width="1.05" stroke-linejoin="round" stroke-linecap="round"/>
<path d="M521.15,216.40 L521.15,216.11 L521.15,215.18 L521.15,214.25 L521.15,213.33 L521.15,212.40 L521.15,211.47 L521.15,210.55 L521.15,209.62 L521.15,208.69 L521.15,207.77 L521.15,206.84 L521.15,205.92 L521.15,204.99 L521.15,204.06 L521.16,203.14 L521.16,202.21 L521.16,201.28 L521.16,200.36 L521.16,199.43 L521.16,198.50 L521.16,197.58 L521.16,196.65 L521.16,195.72 L521.16,194.80 L521.16,193.87 L521.16,192.94 L521.16,192.02 L521.17,191.09 L521.17,190.16 L521.17,189.24 L521.17,188.31 L521.17,187.38 L521.17,186.46 L521.18,185.53 L521.18,184.61 L521.18,183.68 L521.18,182.75 L521.19,181.83 L521.19,180.90 L521.19,179.97 L521.20,179.05 L521.20,178.12 L521.21,177.20 L521.21,176.27 L521.22,175.34 L521.22,174.42 L521.23,173.49 L521.24,172.57 L521.24,171.64 L521.25,170.72 L521.26,169.79 L521.27,168.86 L521.28,167.94 L521.29,167.01 L521.30,166.09 L521.32,165.16 L521.33,164.24 L521.35,163.31 L521.37,162.39 L521.38,161.47 L521.40,160.54 L521.43,159.62 L521.45,158.69 L521.48,157.77 L521.51,156.85 L521.54,155.92 L521.57,155.00 L521.61,154.08 L521.65,153.16 L521.69,152.24 L521.74,151.32 L521.79,150.40 L521.85,149.48 L521.91,148.56 L521.98,147.64 L522.05,146.72 L522.13,145.80 L522.21,144.89 L522.31,143.97 L522.41,143.06 L522.52,142.14 L522.64,141.23 L522.77,140.32 L522.91,139.41 L523.07,138.50 L523.24,137.59 L523.42,136.69 L523.62,135.79 L523.83,134.88 L524.07,133.98 L524.33,133.09 L524.60,132.19 L524.91,131.30 L525.24,130.41 L525.59,129.52 L525.98,128.63 L526.41,127.75 L526.87,126.87 L527.37,126.00 L527.92,125.13 L528.51,124.26 L529.16,123.39 L529.86,122.53 L530.63,121.67 L531.46,120.82 L532.36,119.97 L533.34,119.12 L534.41,118.28 L535.58,117.44 L536.84,116.60 L538.22,115.76 L539.72,114.93 L541.35,114.09 L543.12,113.24 L545.05,112.40 L547.15,111.54 L549.43,110.68 L551.91,109.79 L554.61,108.89 L557.54,107.96 L560.74,107.00 L564.21,106.00 L567.99,104.94 L572.10,103.82 L576.57,102.62 L581.43,101.32 L586.72,99.91 L592.47,98.35 L598.73,96.63 L605.54,94.70 L612.95,92.54 L621.00,90.10 L622.42,92.24 L623.83,94.38 L625.21,96.52 L626.58,98.66 L627.92,100.80 L629.25,102.94 L630.56,105.08 L631.85,107.23 L633.13,109.37 L634.39,111.51 L635.63,113.65 L636.86,115.79 L638.07,117.93 L639.26,120.07 L640.44,122.21 L641.61,124.35 L642.76,126.49 L643.90,128.63 L645.02,130.77 L646.13,132.91 L647.23,135.05 L648.31,137.19 L649.38,139.34 L650.44,141.48 L651.49,143.62 L652.53,145.76 L653.55,147.90 L654.57,150.04 L655.57,152.18 L656.57,154.32 L657.55,156.46 L658.53,158.60 L659.50,160.74 L660.45,162.88 L661.40,165.02 L662.35,167.16 L663.28,169.31 L664.21,171.45 L665.13,173.59 L666.04,175.73 L666.95,177.87 L667.85,180.01 L668.75,182.15 L669.64,184.29 L670.53,186.43 L671.41,188.57 L672.29,190.71 L673.16,192.85 L674.03,194.99 L674.90,197.13 L675.76,199.27 L676.63,201.42 L677.49,203.56 L678.34,205.70 L679.20,207.84 L680.06,209.98 L680.91,212.12 L681.77,214.26 L682.62,216.40" fill="none" stroke="#1c1c1c" stroke-width="1.05" stroke-linejoin="round" stroke-linecap="round"/>
<path d="M521.17,216.40 L521.17,215.92 L521.18,214.89 L521.18,213.87 L521.18,212.84 L521.18,211.81 L521.19,210.79 L521.19,209.76 L521.19,208.74 L521.20,207.71 L521.20,206.68 L521.21,205.66 L521.21,204.63 L521.22,203.61 L521.22,202.58 L521.23,201.56 L521.24,200.53 L521.24,199.50 L521.25,198.48 L521.26,197.45 L521.27,196.43 L521.28,195.40 L521.29,194.38 L521.30,193.35 L521.32,192.33 L521.33,191.31 L521.35,190.28 L521.37,189.26 L521.38,188.23 L521.40,187.21 L521.43,186.19 L521.45,185.17 L521.48,184.14 L521.51,183.12 L521.54,182.10 L521.57,181.08 L521.61,180.06 L521.65,179.04 L521.69,178.02 L521.74,177.00 L521.79,175.98 L521.85,174.96 L521.91,173.95 L521.98,172.93 L522.05,171.91 L522.13,170.90 L522.21,169.89 L522.31,168.87 L522.41,167.86 L522.52,166.85 L522.64,165.85 L522.77,164.84 L522.91,163.84 L523.07,162.83 L523.24,161.83 L523.42,160.83 L523.62,159.84 L523.83,158.84 L524.07,157.85 L524.33,156.86 L524.60,155.88 L524.91,154.89 L525.24,153.91 L525.59,152.94 L525.98,151.97 L526.41,151.00 L526.87,150.04 L527.37,149.08 L527.92,148.13 L528.51,147.18 L529.16,146.24 L529.86,145.30 L530.63,144.37 L531.46,143.44 L532.36,142.53 L533.34,141.61 L534.41,140.70 L535.58,139.80 L536.84,138.90 L538.22,138.01 L539.72,137.12 L541.35,136.24 L543.12,135.35 L545.05,134.46 L547.15,133.57 L549.43,132.68 L551.91,131.77 L554.61,130.85 L557.54,129.90 L560.74,128.93 L564.21,127.92 L567.99,126.87 L572.10,125.75 L576.57,124.56 L581.43,123.28 L586.72,121.90 L592.47,120.37 L598.73,118.68 L605.54,116.80 L612.95,114.69 L621.00,112.29 L622.10,114.06 L623.19,115.83 L624.28,117.59 L625.35,119.36 L626.42,121.12 L627.48,122.89 L628.53,124.65 L629.57,126.42 L630.60,128.18 L631.63,129.94 L632.64,131.71 L633.65,133.47 L634.66,135.24 L635.65,137.00 L636.64,138.77 L637.62,140.53 L638.59,142.29 L639.55,144.06 L640.51,145.82 L641.46,147.59 L642.40,149.35 L643.34,151.12 L644.27,152.88 L645.19,154.65 L646.11,156.41 L647.02,158.17 L647.92,159.94 L648.82,161.70 L649.71,163.47 L650.60,165.23 L651.48,167.00 L652.35,168.76 L653.22,170.53 L654.08,172.29 L654.93,174.05 L655.78,175.82 L656.63,177.58 L657.47,179.35 L658.30,181.11 L659.13,182.88 L659.96,184.64 L660.77,186.41 L661.59,188.17 L662.40,189.93 L663.20,191.70 L664.00,193.46 L664.80,195.23 L665.59,196.99 L666.38,198.76 L667.16,200.52 L667.94,202.28 L668.71,204.05 L669.48,205.81 L670.25,207.58 L671.01,209.34 L671.77,211.11 L672.52,212.87 L673.28,214.64 L674.02,216.40" fill="none" stroke="#0000ff" stroke-width="1.05" stroke-linejoin="round" stroke-linecap="round"/>
<path d="M521.20,216.40 L521.20,215.89 L521.20,215.10 L521.21,214.31 L521.21,213.52 L521.22,212.73 L521.22,211.94 L521.23,211.15 L521.24,210.36 L521.24,209.57 L521.25,208.78 L521.26,207.99 L521.27,207.21 L521.28,206.42 L521.29,205.63 L521.30,204.84 L521.32,204.05 L521.33,203.26 L521.35,202.47 L521.37,201.68 L521.38,200.89 L521.40,200.10 L521.43,199.31 L521.45,198.52 L521.48,197.73 L521.51,196.94 L521.54,196.15 L521.57,195.36 L521.61,194.57 L521.65,193.78 L521.69,192.99 L521.74,192.20 L521.79,191.41 L521.85,190.62 L521.91,189.82 L521.98,189.03 L522.05,188.24 L522.13,187.45 L522.21,186.66 L522.31,185.86 L522.41,185.07 L522.52,184.28 L522.64,183.49 L522.77,182.69 L522.91,181.90 L523.07,181.10 L523.24,180.31 L523.42,179.51 L523.62,178.71 L523.83,177.92 L524.07,177.12 L524.33,176.32 L524.60,175.52 L524.91,174.72 L525.24,173.91 L525.59,173.11 L525.98,172.30 L526.41,171.49 L526.87,170.68 L527.37,169.87 L527.92,169.06 L528.51,168.24 L529.16,167.42 L529.86,166.59 L530.63,165.77 L531.46,164.93 L532.36,164.09 L533.34,163.25 L534.41,162.40 L535.58,161.54 L536.84,160.67 L538.22,159.80 L539.72,158.91 L541.35,158.00 L543.12,157.09 L545.05,156.15 L547.15,155.20 L549.43,154.22 L551.91,153.22 L554.61,152.19 L557.54,151.12 L560.74,150.01 L564.21,148.86 L567.99,147.65 L572.10,146.38 L576.57,145.04 L581.43,143.63 L586.72,142.12 L592.47,140.51 L598.73,138.78 L605.54,136.91 L612.95,134.89 L621.00,132.70 L621.94,134.12 L622.88,135.54 L623.80,136.96 L624.71,138.37 L625.61,139.79 L626.50,141.21 L627.38,142.63 L628.25,144.05 L629.11,145.47 L629.96,146.89 L630.80,148.31 L631.63,149.72 L632.45,151.14 L633.27,152.56 L634.07,153.98 L634.87,155.40 L635.66,156.82 L636.45,158.24 L637.22,159.65 L637.99,161.07 L638.75,162.49 L639.50,163.91 L640.25,165.33 L640.99,166.75 L641.73,168.17 L642.45,169.58 L643.18,171.00 L643.89,172.42 L644.61,173.84 L645.31,175.26 L646.01,176.68 L646.71,178.10 L647.41,179.52 L648.09,180.93 L648.78,182.35 L649.46,183.77 L650.14,185.19 L650.81,186.61 L651.48,188.03 L652.15,189.45 L652.82,190.86 L653.48,192.28 L654.14,193.70 L654.80,195.12 L655.45,196.54 L656.11,197.96 L656.76,199.38 L657.42,200.79 L658.07,202.21 L658.72,203.63 L659.37,205.05 L660.02,206.47 L660.67,207.89 L661.32,209.31 L661.97,210.73 L662.62,212.14 L663.27,213.56 L663.93,214.98 L664.58,216.40" fill="none" stroke="#ff0000" stroke-width="1.05" stroke-linejoin="round" stroke-linecap="round"/>
<path d="M521.40,216.40 L521.40,216.30 L521.43,215.62 L521.45,214.94 L521.48,214.25 L521.51,213.57 L521.54,212.89 L521.57,212.20 L521.61,211.52 L521.65,210.84 L521.69,210.15 L521.74,209.47 L521.79,208.79 L521.85,208.10 L521.91,207.42 L521.98,206.73 L522.05,206.04 L522.13,205.36 L522.21,204.67 L522.31,203.98 L522.41,203.30 L522.52,202.61 L522.64,201.92 L522.77,201.23 L522.91,200.54 L523.07,199.85 L523.24,199.16 L523.42,198.46 L523.62,197.77 L523.83,197.07 L524.07,196.37 L524.33,195.68 L524.60,194.98 L524.91,194.27 L525.24,193.57 L525.59,192.86 L525.98,192.15 L526.41,191.44 L526.87,190.73 L527.37,190.01 L527.92,189.29 L528.51,188.56 L529.16,187.83 L529.86,187.09 L530.63,186.35 L531.46,185.60 L532.36,184.85 L533.34,184.09 L534.41,183.31 L535.58,182.53 L536.84,181.74 L538.22,180.93 L539.72,180.11 L541.35,179.28 L543.12,178.42 L545.05,177.55 L547.15,176.65 L549.43,175.72 L551.91,174.77 L554.61,173.77 L557.54,172.74 L560.74,171.67 L564.21,170.54 L567.99,169.36 L572.10,168.11 L576.57,166.78 L581.43,165.36 L586.72,163.85 L592.47,162.23 L598.73,160.48 L605.54,158.59 L612.95,156.53 L621.00,154.29 L621.55,155.35 L622.10,156.41 L622.65,157.46 L623.20,158.51 L623.76,159.56 L624.32,160.62 L624.88,161.67 L625.44,162.72 L626.00,163.77 L626.57,164.83 L627.13,165.88 L627.70,166.93 L628.27,167.98 L628.84,169.04 L629.41,170.09 L629.99,171.14 L630.56,172.19 L631.13,173.25 L631.71,174.30 L632.28,175.35 L632.86,176.40 L633.43,177.46 L634.01,178.51 L634.59,179.56 L635.16,180.61 L635.74,181.67 L636.31,182.72 L636.89,183.77 L637.46,184.82 L638.04,185.88 L638.61,186.93 L639.18,187.98 L639.75,189.03 L640.32,190.09 L640.89,191.14 L641.46,192.19 L642.03,193.24 L642.59,194.30 L643.15,195.35 L643.71,196.40 L644.27,197.45 L644.83,198.51 L645.39,199.56 L645.94,200.61 L646.49,201.66 L647.04,202.72 L647.59,203.77 L648.13,204.82 L648.67,205.87 L649.21,206.93 L649.74,207.98 L650.28,209.03 L650.80,210.08 L651.33,211.14 L651.85,212.19 L652.37,213.24 L652.88,214.29 L653.40,215.35 L653.90,216.40" fill="none" stroke="#00ff00" stroke-width="1.05" stroke-linejoin="round" stroke-linecap="round"/>
<path d="M521.90,372.30 L521.96,370.82 L522.03,369.33 L522.09,367.83 L522.15,366.33 L522.21,364.82 L522.27,363.32 L522.33,361.83 L522.39,360.36 L522.46,358.90 L522.54,357.47 L522.61,356.07 L522.70,354.70 L522.78,353.55 L522.86,352.42 L522.94,351.30 L523.03,350.20 L523.11,349.11 L523.20,348.03 L523.30,346.97 L523.39,345.93 L523.49,344.90 L523.59,343.88 L523.69,342.88 L523.80,341.90 L523.89,341.08 L523.97,340.28 L524.06,339.49 L524.15,338.71 L524.23,337.94 L524.33,337.18 L524.42,336.43 L524.52,335.69 L524.63,334.96 L524.74,334.23 L524.87,333.51 L525.00,332.80 L525.13,332.16 L525.26,331.52 L525.39,330.88 L525.53,330.25 L525.68,329.63 L525.83,329.01 L525.99,328.40 L526.15,327.80 L526.32,327.21 L526.51,326.63 L526.70,326.06 L526.90,325.50 L527.09,325.01 L527.28,324.52 L527.48,324.04 L527.68,323.57 L527.90,323.10 L528.11,322.64 L528.34,322.19 L528.57,321.75 L528.82,321.32 L529.07,320.90 L529.33,320.50 L529.60,320.10 L529.86,319.74 L530.12,319.40 L530.39,319.06 L530.67,318.73 L530.95,318.41 L531.25,318.10 L531.55,317.80 L531.86,317.50 L532.18,317.21 L532.51,316.93 L532.85,316.66 L533.20,316.40 L533.60,316.12 L534.00,315.86 L534.42,315.60 L534.85,315.36 L535.29,315.12 L535.74,314.89 L536.20,314.68 L536.68,314.47 L537.17,314.26 L537.67,314.07 L538.18,313.88 L538.70,313.70 L539.36,313.49 L540.05,313.29 L540.76,313.11 L541.48,312.94 L542.23,312.79 L542.99,312.64 L543.76,312.50 L544.55,312.37 L545.35,312.25 L546.16,312.13 L546.98,312.01 L547.80,311.90 L548.78,311.77 L549.79,311.66 L550.82,311.55 L551.87,311.45 L552.93,311.37 L554.01,311.29 L555.10,311.21 L556.19,311.14 L557.29,311.08 L558.40,311.02 L559.50,310.96 L560.60,310.90 L561.76,310.84 L562.90,310.79 L564.05,310.75 L565.19,310.71 L566.34,310.67 L567.50,310.64 L568.68,310.61 L569.88,310.59 L571.10,310.56 L572.36,310.54 L573.66,310.52 L575.00,310.50 L576.85,310.47 L578.81,310.45 L580.84,310.44 L582.94,310.43 L585.09,310.42 L587.27,310.41 L589.46,310.41 L591.65,310.41 L593.81,310.41 L595.94,310.40 L598.01,310.40 L600.00,310.40 L601.70,310.40 L603.38,310.40 L605.02,310.39 L606.65,310.39 L608.26,310.39 L609.85,310.39 L611.44,310.40 L613.02,310.40 L614.61,310.40 L616.20,310.40 L617.79,310.40 L619.40,310.40 L620.00,300.00 L620.80,289.80 L622.60,288.00 L623.87,287.70 L625.13,287.39 L626.39,287.08 L627.65,286.76 L628.91,286.45 L630.16,286.13 L631.43,285.83 L632.70,285.52 L633.98,285.23 L635.27,284.94 L636.58,284.66 L637.90,284.40 L639.34,284.13 L640.81,283.87 L642.29,283.61 L643.78,283.37 L645.28,283.13 L646.80,282.91 L648.31,282.69 L649.84,282.47 L651.36,282.27 L652.88,282.07 L654.39,281.88 L655.90,281.70 L657.40,281.53 L658.90,281.36 L660.40,281.20 L661.90,281.06 L663.40,280.92 L664.90,280.78 L666.40,280.65 L667.90,280.53 L669.40,280.42 L670.90,280.31 L672.40,280.20 L673.90,280.10 L675.41,280.00 L676.96,279.92 L678.52,279.83 L680.10,279.76 L681.67,279.69 L683.24,279.62 L684.78,279.56 L686.29,279.50 L687.76,279.45 L689.17,279.40 L690.52,279.35 L691.80,279.30 L692.65,279.27 L693.47,279.24 L694.25,279.21 L695.01,279.18 L695.75,279.16 L696.47,279.14 L697.18,279.11 L697.88,279.09 L698.58,279.07 L699.29,279.05 L700.01,279.02 L700.75,279.00" fill="none" stroke="#1c1c1c" stroke-width="1.05" stroke-linejoin="round" stroke-linecap="round"/>
<g style="filter:grayscale(0)">
<text x="34.24" y="10.10" font-family='"Liberation Serif", serif' font-weight="normal" font-size="15" fill="#363636" textLength="16.59" lengthAdjust="spacingAndGlyphs">10</text>
<text x="43.63" y="52.55" font-family='"Liberation Serif", serif' font-weight="normal" font-size="15" fill="#363636" textLength="6.11" lengthAdjust="spacingAndGlyphs">1</text>
<text x="29.17" y="94.90" font-family='"Liberation Serif", serif' font-weight="normal" font-size="15" fill="#363636" textLength="20.84" lengthAdjust="spacingAndGlyphs">0.1</text>
<text x="22.54" y="137.30" font-family='"Liberation Serif", serif' font-weight="normal" font-size="15" fill="#363636" textLength="16.59" lengthAdjust="spacingAndGlyphs">10</text>
<line x1="40.10" y1="130.30" x2="44.90" y2="130.30" stroke="#363636" stroke-width="1.0"/>
<text x="45.26" y="132.80" font-family='"Liberation Serif", serif' font-weight="normal" font-size="9.5" fill="#363636" textLength="6.11" lengthAdjust="spacingAndGlyphs">2</text>
<text x="22.43" y="179.70" font-family='"Liberation Serif", serif' font-weight="normal" font-size="15" fill="#363636" textLength="16.70" lengthAdjust="spacingAndGlyphs">10</text>
<line x1="40.00" y1="172.40" x2="44.70" y2="172.40" stroke="#363636" stroke-width="1.0"/>
<text x="45.30" y="174.80" font-family='"Liberation Serif", serif' font-weight="normal" font-size="9.5" fill="#363636" textLength="6.29" lengthAdjust="spacingAndGlyphs">3</text>
<text x="42.39" y="265.30" font-family='"Liberation Sans", sans-serif' font-weight="normal" font-size="14" fill="#363636" textLength="8.45" lengthAdjust="spacingAndGlyphs">5</text>
<text x="42.40" y="311.90" font-family='"Liberation Sans", sans-serif' font-weight="normal" font-size="14" fill="#363636" textLength="8.61" lengthAdjust="spacingAndGlyphs">0</text>
<text x="42.73" y="358.90" font-family='"Liberation Sans", sans-serif' font-weight="normal" font-size="14" fill="#363636" textLength="7.98" lengthAdjust="spacingAndGlyphs">5</text>
<line x1="32.80" y1="354.40" x2="40.90" y2="354.40" stroke="#363636" stroke-width="1.1"/>
<text x="96.45" y="386.90" font-family='"Liberation Serif", serif' font-weight="normal" font-size="15" fill="#363636" textLength="21.49" lengthAdjust="spacingAndGlyphs">0.1</text>
<text x="156.40" y="386.90" font-family='"Liberation Serif", serif' font-weight="normal" font-size="15" fill="#363636" textLength="6.82" lengthAdjust="spacingAndGlyphs">1</text>
<text x="205.12" y="386.90" font-family='"Liberation Serif", serif' font-weight="normal" font-size="15" fill="#363636" textLength="15.67" lengthAdjust="spacingAndGlyphs">10</text>
<text x="136.61" y="407.20" font-family='"Liberation Serif", serif' font-weight="normal" font-size="16.5" fill="#363636" textLength="5.51" lengthAdjust="spacingAndGlyphs">t</text>
<text x="142.44" y="412.20" font-family='"Liberation Sans", sans-serif' font-weight="bold" font-size="9.6" fill="#363636" textLength="16.34" lengthAdjust="spacingAndGlyphs">obs</text>
<path d="M169.60,395.60 H166.70 V409.40 H169.60" fill="none" stroke="#363636" stroke-width="1.05"/>
<text x="170.74" y="406.80" font-family='"Liberation Serif", serif' font-weight="normal" font-size="16.5" fill="#363636" textLength="7.23" lengthAdjust="spacingAndGlyphs">s</text>
<path d="M179.80,395.60 H182.40 V409.40 H179.80" fill="none" stroke="#363636" stroke-width="1.05"/>
<path d="M230.70,19.40 H227.80 V33.30 H230.70" fill="none" stroke="#363636" stroke-width="1.05"/>
<path d="M250.60,19.40 H253.40 V33.30 H250.60" fill="none" stroke="#363636" stroke-width="1.05"/>
<text x="233.28" y="30.60" font-family='"Liberation Serif", serif' font-weight="normal" font-size="14" fill="#363636" textLength="15.24" lengthAdjust="spacingAndGlyphs">1a</text>
<path d="M230.70,339.00 H227.80 V352.90 H230.70" fill="none" stroke="#363636" stroke-width="1.05"/>
<path d="M250.60,339.00 H253.40 V352.90 H250.60" fill="none" stroke="#363636" stroke-width="1.05"/>
<text x="233.28" y="350.20" font-family='"Liberation Serif", serif' font-weight="normal" font-size="14" fill="#363636" textLength="15.24" lengthAdjust="spacingAndGlyphs">1a</text>
<text x="314.20" y="386.90" font-family='"Liberation Serif", serif' font-weight="normal" font-size="15" fill="#363636" textLength="21.49" lengthAdjust="spacingAndGlyphs">0.1</text>
<text x="374.15" y="386.90" font-family='"Liberation Serif", serif' font-weight="normal" font-size="15" fill="#363636" textLength="6.82" lengthAdjust="spacingAndGlyphs">1</text>
<text x="422.87" y="386.90" font-family='"Liberation Serif", serif' font-weight="normal" font-size="15" fill="#363636" textLength="15.67" lengthAdjust="spacingAndGlyphs">10</text>
<text x="354.36" y="407.20" font-family='"Liberation Serif", serif' font-weight="normal" font-size="16.5" fill="#363636" textLength="5.51" lengthAdjust="spacingAndGlyphs">t</text>
<text x="360.19" y="412.20" font-family='"Liberation Sans", sans-serif' font-weight="bold" font-size="9.6" fill="#363636" textLength="16.34" lengthAdjust="spacingAndGlyphs">obs</text>
<path d="M387.35,395.60 H384.45 V409.40 H387.35" fill="none" stroke="#363636" stroke-width="1.05"/>
<text x="388.49" y="406.80" font-family='"Liberation Serif", serif' font-weight="normal" font-size="16.5" fill="#363636" textLength="7.23" lengthAdjust="spacingAndGlyphs">s</text>
<path d="M397.55,395.60 H400.15 V409.40 H397.55" fill="none" stroke="#363636" stroke-width="1.05"/>
<path d="M448.45,19.40 H445.55 V33.30 H448.45" fill="none" stroke="#363636" stroke-width="1.05"/>
<path d="M468.35,19.40 H471.15 V33.30 H468.35" fill="none" stroke="#363636" stroke-width="1.05"/>
<text x="449.36" y="30.60" font-family='"Liberation Serif", serif' font-weight="normal" font-size="14" fill="#363636" textLength="16.93" lengthAdjust="spacingAndGlyphs">2a</text>
<path d="M448.45,339.00 H445.55 V352.90 H448.45" fill="none" stroke="#363636" stroke-width="1.05"/>
<path d="M468.35,339.00 H471.15 V352.90 H468.35" fill="none" stroke="#363636" stroke-width="1.05"/>
<text x="449.36" y="350.20" font-family='"Liberation Serif", serif' font-weight="normal" font-size="14" fill="#363636" textLength="16.93" lengthAdjust="spacingAndGlyphs">2a</text>
<text x="531.95" y="386.90" font-family='"Liberation Serif", serif' font-weight="normal" font-size="15" fill="#363636" textLength="21.49" lengthAdjust="spacingAndGlyphs">0.1</text>
<text x="591.90" y="386.90" font-family='"Liberation Serif", serif' font-weight="normal" font-size="15" fill="#363636" textLength="6.82" lengthAdjust="spacingAndGlyphs">1</text>
<text x="640.62" y="386.90" font-family='"Liberation Serif", serif' font-weight="normal" font-size="15" fill="#363636" textLength="15.67" lengthAdjust="spacingAndGlyphs">10</text>
<text x="572.11" y="407.20" font-family='"Liberation Serif", serif' font-weight="normal" font-size="16.5" fill="#363636" textLength="5.51" lengthAdjust="spacingAndGlyphs">t</text>
<text x="577.94" y="412.20" font-family='"Liberation Sans", sans-serif' font-weight="bold" font-size="9.6" fill="#363636" textLength="16.34" lengthAdjust="spacingAndGlyphs">obs</text>
<path d="M605.10,395.60 H602.20 V409.40 H605.10" fill="none" stroke="#363636" stroke-width="1.05"/>
<text x="606.24" y="406.80" font-family='"Liberation Serif", serif' font-weight="normal" font-size="16.5" fill="#363636" textLength="7.23" lengthAdjust="spacingAndGlyphs">s</text>
<path d="M615.30,395.60 H617.90 V409.40 H615.30" fill="none" stroke="#363636" stroke-width="1.05"/>
<path d="M666.20,19.40 H663.30 V33.30 H666.20" fill="none" stroke="#363636" stroke-width="1.05"/>
<path d="M686.10,19.40 H688.90 V33.30 H686.10" fill="none" stroke="#363636" stroke-width="1.05"/>
<text x="667.04" y="30.60" font-family='"Liberation Serif", serif' font-weight="normal" font-size="14" fill="#363636" textLength="17.01" lengthAdjust="spacingAndGlyphs">3a</text>
<path d="M666.20,339.00 H663.30 V352.90 H666.20" fill="none" stroke="#363636" stroke-width="1.05"/>
<path d="M686.10,339.00 H688.90 V352.90 H686.10" fill="none" stroke="#363636" stroke-width="1.05"/>
<text x="667.04" y="350.20" font-family='"Liberation Serif", serif' font-weight="normal" font-size="14" fill="#363636" textLength="17.01" lengthAdjust="spacingAndGlyphs">3a</text>
<text x="74.77" y="28.20" font-family='"Liberation Serif", serif' font-weight="normal" font-size="12.5" fill="#111" textLength="6.71" lengthAdjust="spacingAndGlyphs" stroke="#111" stroke-width="0.4">h</text>
<text x="82.48" y="28.00" font-family='"Liberation Serif", serif' font-weight="normal" font-size="11.5" fill="#111" textLength="7.02" lengthAdjust="spacingAndGlyphs" stroke="#111" stroke-width="0.4" font-style="italic">ν</text>
<text x="89.52" y="30.80" font-family='"Liberation Sans", sans-serif' font-weight="bold" font-size="7.2" fill="#111" textLength="12.78" lengthAdjust="spacingAndGlyphs" stroke="#111" stroke-width="0.2">obs</text>
<text x="102.60" y="28.80" font-family='"Liberation Serif", serif' font-weight="normal" font-size="12.5" fill="#111" textLength="9.09" lengthAdjust="spacingAndGlyphs" stroke="#111" stroke-width="0.4">=</text>
<text x="112.38" y="28.20" font-family='"Liberation Serif", serif' font-weight="normal" font-size="12.5" fill="#111" textLength="15.10" lengthAdjust="spacingAndGlyphs" stroke="#111" stroke-width="0.4">30</text>
<text x="133.25" y="28.20" font-family='"Liberation Serif", serif' font-weight="normal" font-size="12.5" fill="#111" textLength="22.00" lengthAdjust="spacingAndGlyphs" stroke="#111" stroke-width="0.4">keV</text>
<text x="113.28" y="43.20" font-family='"Liberation Serif", serif' font-weight="normal" font-size="12.5" fill="#0000ff" textLength="20.85" lengthAdjust="spacingAndGlyphs" stroke="#0000ff" stroke-width="0.35">100</text>
<text x="140.75" y="43.20" font-family='"Liberation Serif", serif' font-weight="normal" font-size="12.5" fill="#0000ff" textLength="21.90" lengthAdjust="spacingAndGlyphs" stroke="#0000ff" stroke-width="0.35">keV</text>
<text x="112.30" y="58.20" font-family='"Liberation Serif", serif' font-weight="normal" font-size="12.5" fill="#ff0000" textLength="21.85" lengthAdjust="spacingAndGlyphs" stroke="#ff0000" stroke-width="0.35">300</text>
<text x="140.75" y="58.20" font-family='"Liberation Serif", serif' font-weight="normal" font-size="12.5" fill="#ff0000" textLength="21.90" lengthAdjust="spacingAndGlyphs" stroke="#ff0000" stroke-width="0.35">keV</text>
<text x="113.73" y="73.20" font-family='"Liberation Serif", serif' font-weight="normal" font-size="12.5" fill="#00ee00" textLength="6.11" lengthAdjust="spacingAndGlyphs" stroke="#00ee00" stroke-width="0.2">1</text>
<text x="125.78" y="73.20" font-family='"Liberation Serif", serif' font-weight="normal" font-size="12.5" fill="#00ee00" textLength="22.85" lengthAdjust="spacingAndGlyphs" stroke="#00ee00" stroke-width="0.2">MeV</text>
<text transform="translate(11.80,140.80) rotate(-90)" x="-0.40" y="0" font-family='"Liberation Serif", serif' font-weight="normal" font-size="14.5" fill="#363636" textLength="7.70" lengthAdjust="spacingAndGlyphs">F</text>
<text transform="translate(15.40,132.30) rotate(-90)" x="-0.11" y="0" font-family='"Liberation Serif", serif' font-weight="normal" font-size="9.5" fill="#363636" textLength="3.61" lengthAdjust="spacingAndGlyphs" font-style="italic">ν</text>
<path d="M0.30,115.80 V118.70 H14.60 V115.80" fill="none" stroke="#363636" stroke-width="1.05"/>
<text transform="translate(12.20,114.90) rotate(-90)" x="-0.35" y="0" font-family='"Liberation Serif", serif' font-weight="normal" font-size="15" fill="#363636" textLength="27.71" lengthAdjust="spacingAndGlyphs">mJy</text>
<path d="M0.30,84.20 V81.30 H14.60 V84.20" fill="none" stroke="#363636" stroke-width="1.05"/>
<line x1="17.60" y1="367.00" x2="17.60" y2="376.10" stroke="#363636" stroke-width="1.1"/>
<text transform="translate(21.40,364.60) rotate(-90)" x="-0.62" y="0" font-family='"Liberation Serif", serif' font-weight="normal" font-size="14.5" fill="#363636" textLength="36.04" lengthAdjust="spacingAndGlyphs">d(log</text>
<text transform="translate(21.50,320.00) rotate(-90)" x="-0.40" y="0" font-family='"Liberation Serif", serif' font-weight="normal" font-size="14.5" fill="#363636" textLength="7.70" lengthAdjust="spacingAndGlyphs">F</text>
<text transform="translate(25.00,311.80) rotate(-90)" x="-0.16" y="0" font-family='"Liberation Serif", serif' font-weight="normal" font-size="9.5" fill="#363636" textLength="5.06" lengthAdjust="spacingAndGlyphs" font-style="italic">ν</text>
<text transform="translate(21.40,306.40) rotate(-90)" x="-0.49" y="0" font-family='"Liberation Serif", serif' font-weight="normal" font-size="14.5" fill="#363636" textLength="5.06" lengthAdjust="spacingAndGlyphs">)</text>
<text transform="translate(21.40,300.10) rotate(-90)" x="-0.00" y="0" font-family='"Liberation Serif", serif' font-weight="normal" font-size="14.5" fill="#363636" textLength="7.80" lengthAdjust="spacingAndGlyphs">/</text>
<text transform="translate(21.40,290.00) rotate(-90)" x="-0.58" y="0" font-family='"Liberation Serif", serif' font-weight="normal" font-size="14.5" fill="#363636" textLength="34.09" lengthAdjust="spacingAndGlyphs">d(log</text>
<text transform="translate(21.40,245.40) rotate(-90)" x="-0.20" y="0" font-family='"Liberation Serif", serif' font-weight="normal" font-size="16" fill="#363636" textLength="5.83" lengthAdjust="spacingAndGlyphs">t</text>
<text transform="translate(26.00,239.90) rotate(-90)" x="-0.32" y="0" font-family='"Liberation Sans", sans-serif' font-weight="bold" font-size="7.0" fill="#363636" textLength="14.66" lengthAdjust="spacingAndGlyphs">obs</text>
<text transform="translate(21.40,224.10) rotate(-90)" x="-0.53" y="0" font-family='"Liberation Serif", serif' font-weight="normal" font-size="14.5" fill="#363636" textLength="5.45" lengthAdjust="spacingAndGlyphs">)</text>
</g>
</svg>
</body></html>
